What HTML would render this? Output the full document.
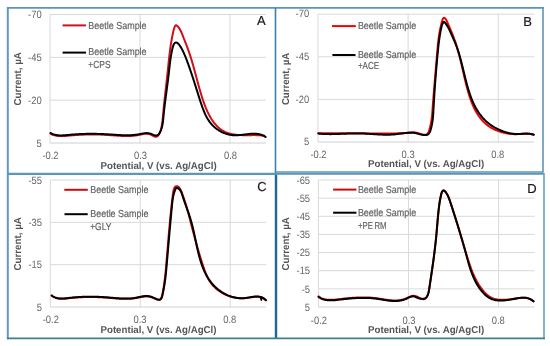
<!DOCTYPE html><html><head><meta charset="utf-8"><style>html,body{margin:0;padding:0;background:#fff;}svg{display:block;filter:blur(0.35px);}text{font-family:"Liberation Sans",sans-serif;text-rendering:geometricPrecision;}</style></head><body>
<svg width="550" height="346" viewBox="0 0 550 346">
<rect x="0" y="0" width="550" height="346" fill="#ffffff"/>
<line x1="50.00" y1="14.50" x2="266.00" y2="14.50" stroke="#d9d9d9" stroke-width="1"/>
<line x1="50.00" y1="57.33" x2="266.00" y2="57.33" stroke="#d9d9d9" stroke-width="1"/>
<line x1="50.00" y1="100.17" x2="266.00" y2="100.17" stroke="#d9d9d9" stroke-width="1"/>
<line x1="50.00" y1="14.50" x2="50.00" y2="143.00" stroke="#d9d9d9" stroke-width="1"/>
<line x1="140.00" y1="14.50" x2="140.00" y2="143.00" stroke="#d9d9d9" stroke-width="1"/>
<line x1="230.00" y1="14.50" x2="230.00" y2="143.00" stroke="#d9d9d9" stroke-width="1"/>
<line x1="50.00" y1="143.00" x2="266.00" y2="143.00" stroke="#d0d0d0" stroke-width="1"/>
<text class="tk" x="41.70" y="18.20" font-size="10.60" fill="#666666" text-anchor="end" textLength="13.58" lengthAdjust="spacingAndGlyphs">-70</text>
<text class="tk" x="41.70" y="61.03" font-size="10.60" fill="#666666" text-anchor="end" textLength="13.58" lengthAdjust="spacingAndGlyphs">-45</text>
<text class="tk" x="41.70" y="103.87" font-size="10.60" fill="#666666" text-anchor="end" textLength="13.58" lengthAdjust="spacingAndGlyphs">-20</text>
<text class="tk" x="41.70" y="146.70" font-size="10.60" fill="#666666" text-anchor="end" textLength="5.23" lengthAdjust="spacingAndGlyphs">5</text>
<text class="tk" x="50.50" y="159.10" font-size="10.60" fill="#666666" text-anchor="middle" textLength="16.20" lengthAdjust="spacingAndGlyphs">-0.2</text>
<text class="tk" x="140.50" y="159.10" font-size="10.60" fill="#666666" text-anchor="middle" textLength="13.07" lengthAdjust="spacingAndGlyphs">0.3</text>
<text class="tk" x="230.50" y="159.10" font-size="10.60" fill="#666666" text-anchor="middle" textLength="13.07" lengthAdjust="spacingAndGlyphs">0.8</text>
<line x1="318.00" y1="14.20" x2="534.30" y2="14.20" stroke="#d9d9d9" stroke-width="1"/>
<line x1="318.00" y1="56.80" x2="534.30" y2="56.80" stroke="#d9d9d9" stroke-width="1"/>
<line x1="318.00" y1="99.40" x2="534.30" y2="99.40" stroke="#d9d9d9" stroke-width="1"/>
<line x1="318.00" y1="14.20" x2="318.00" y2="142.00" stroke="#d9d9d9" stroke-width="1"/>
<line x1="408.12" y1="14.20" x2="408.12" y2="142.00" stroke="#d9d9d9" stroke-width="1"/>
<line x1="498.25" y1="14.20" x2="498.25" y2="142.00" stroke="#d9d9d9" stroke-width="1"/>
<line x1="318.00" y1="142.00" x2="534.30" y2="142.00" stroke="#d0d0d0" stroke-width="1"/>
<text class="tk" x="309.20" y="17.30" font-size="10.60" fill="#666666" text-anchor="end" textLength="13.58" lengthAdjust="spacingAndGlyphs">-70</text>
<text class="tk" x="309.20" y="59.90" font-size="10.60" fill="#666666" text-anchor="end" textLength="13.58" lengthAdjust="spacingAndGlyphs">-45</text>
<text class="tk" x="309.20" y="102.50" font-size="10.60" fill="#666666" text-anchor="end" textLength="13.58" lengthAdjust="spacingAndGlyphs">-20</text>
<text class="tk" x="309.20" y="145.10" font-size="10.60" fill="#666666" text-anchor="end" textLength="5.23" lengthAdjust="spacingAndGlyphs">5</text>
<text class="tk" x="318.50" y="158.10" font-size="10.60" fill="#666666" text-anchor="middle" textLength="16.20" lengthAdjust="spacingAndGlyphs">-0.2</text>
<text class="tk" x="408.12" y="158.10" font-size="10.60" fill="#666666" text-anchor="middle" textLength="13.07" lengthAdjust="spacingAndGlyphs">0.3</text>
<text class="tk" x="497.75" y="158.10" font-size="10.60" fill="#666666" text-anchor="middle" textLength="13.07" lengthAdjust="spacingAndGlyphs">0.8</text>
<line x1="50.30" y1="180.00" x2="266.20" y2="180.00" stroke="#d9d9d9" stroke-width="1"/>
<line x1="50.30" y1="222.33" x2="266.20" y2="222.33" stroke="#d9d9d9" stroke-width="1"/>
<line x1="50.30" y1="264.67" x2="266.20" y2="264.67" stroke="#d9d9d9" stroke-width="1"/>
<line x1="50.30" y1="180.00" x2="50.30" y2="307.00" stroke="#d9d9d9" stroke-width="1"/>
<line x1="140.26" y1="180.00" x2="140.26" y2="307.00" stroke="#d9d9d9" stroke-width="1"/>
<line x1="230.22" y1="180.00" x2="230.22" y2="307.00" stroke="#d9d9d9" stroke-width="1"/>
<line x1="50.30" y1="307.00" x2="266.20" y2="307.00" stroke="#d0d0d0" stroke-width="1"/>
<text class="tk" x="42.00" y="183.70" font-size="10.60" fill="#666666" text-anchor="end" textLength="13.58" lengthAdjust="spacingAndGlyphs">-55</text>
<text class="tk" x="42.00" y="226.03" font-size="10.60" fill="#666666" text-anchor="end" textLength="13.58" lengthAdjust="spacingAndGlyphs">-35</text>
<text class="tk" x="42.00" y="268.37" font-size="10.60" fill="#666666" text-anchor="end" textLength="13.58" lengthAdjust="spacingAndGlyphs">-15</text>
<text class="tk" x="42.00" y="310.70" font-size="10.60" fill="#666666" text-anchor="end" textLength="5.23" lengthAdjust="spacingAndGlyphs">5</text>
<text class="tk" x="50.80" y="323.10" font-size="10.60" fill="#666666" text-anchor="middle" textLength="16.20" lengthAdjust="spacingAndGlyphs">-0.2</text>
<text class="tk" x="139.96" y="323.10" font-size="10.60" fill="#666666" text-anchor="middle" textLength="13.07" lengthAdjust="spacingAndGlyphs">0.3</text>
<text class="tk" x="229.72" y="323.10" font-size="10.60" fill="#666666" text-anchor="middle" textLength="13.07" lengthAdjust="spacingAndGlyphs">0.8</text>
<line x1="318.40" y1="180.00" x2="534.60" y2="180.00" stroke="#d9d9d9" stroke-width="1"/>
<line x1="318.40" y1="198.14" x2="534.60" y2="198.14" stroke="#d9d9d9" stroke-width="1"/>
<line x1="318.40" y1="216.29" x2="534.60" y2="216.29" stroke="#d9d9d9" stroke-width="1"/>
<line x1="318.40" y1="234.43" x2="534.60" y2="234.43" stroke="#d9d9d9" stroke-width="1"/>
<line x1="318.40" y1="252.57" x2="534.60" y2="252.57" stroke="#d9d9d9" stroke-width="1"/>
<line x1="318.40" y1="270.71" x2="534.60" y2="270.71" stroke="#d9d9d9" stroke-width="1"/>
<line x1="318.40" y1="288.86" x2="534.60" y2="288.86" stroke="#d9d9d9" stroke-width="1"/>
<line x1="318.40" y1="180.00" x2="318.40" y2="307.00" stroke="#d9d9d9" stroke-width="1"/>
<line x1="408.48" y1="180.00" x2="408.48" y2="307.00" stroke="#d9d9d9" stroke-width="1"/>
<line x1="498.57" y1="180.00" x2="498.57" y2="307.00" stroke="#d9d9d9" stroke-width="1"/>
<line x1="318.40" y1="307.00" x2="534.60" y2="307.00" stroke="#d0d0d0" stroke-width="1"/>
<text class="tk" x="310.10" y="183.70" font-size="10.60" fill="#666666" text-anchor="end" textLength="13.58" lengthAdjust="spacingAndGlyphs">-65</text>
<text class="tk" x="310.10" y="201.84" font-size="10.60" fill="#666666" text-anchor="end" textLength="13.58" lengthAdjust="spacingAndGlyphs">-55</text>
<text class="tk" x="310.10" y="219.99" font-size="10.60" fill="#666666" text-anchor="end" textLength="13.58" lengthAdjust="spacingAndGlyphs">-45</text>
<text class="tk" x="310.10" y="238.13" font-size="10.60" fill="#666666" text-anchor="end" textLength="13.58" lengthAdjust="spacingAndGlyphs">-35</text>
<text class="tk" x="310.10" y="256.27" font-size="10.60" fill="#666666" text-anchor="end" textLength="13.58" lengthAdjust="spacingAndGlyphs">-25</text>
<text class="tk" x="310.10" y="274.41" font-size="10.60" fill="#666666" text-anchor="end" textLength="13.58" lengthAdjust="spacingAndGlyphs">-15</text>
<text class="tk" x="310.10" y="292.56" font-size="10.60" fill="#666666" text-anchor="end" textLength="8.36" lengthAdjust="spacingAndGlyphs">-5</text>
<text class="tk" x="310.10" y="310.70" font-size="10.60" fill="#666666" text-anchor="end" textLength="5.23" lengthAdjust="spacingAndGlyphs">5</text>
<text class="tk" x="318.90" y="323.60" font-size="10.60" fill="#666666" text-anchor="middle" textLength="16.20" lengthAdjust="spacingAndGlyphs">-0.2</text>
<text class="tk" x="408.98" y="323.60" font-size="10.60" fill="#666666" text-anchor="middle" textLength="13.07" lengthAdjust="spacingAndGlyphs">0.3</text>
<text class="tk" x="498.27" y="323.60" font-size="10.60" fill="#666666" text-anchor="middle" textLength="13.07" lengthAdjust="spacingAndGlyphs">0.8</text>
<text x="256.90" y="25.40" font-size="13.00" fill="#1a1a1a" stroke="#1a1a1a" stroke-width="0.2">A</text>
<text x="523.30" y="26.00" font-size="13.00" fill="#1a1a1a" stroke="#1a1a1a" stroke-width="0.2">B</text>
<text x="257.30" y="190.60" font-size="13.00" fill="#1a1a1a" stroke="#1a1a1a" stroke-width="0.2">C</text>
<text x="527.20" y="193.00" font-size="13.00" fill="#1a1a1a" stroke="#1a1a1a" stroke-width="0.2">D</text>
<text x="88.30" y="28.80" font-size="10.10" fill="#646464" stroke="#646464" stroke-width="0.2" textLength="58.30" lengthAdjust="spacingAndGlyphs">Beetle Sample</text>
<text x="88.30" y="55.10" font-size="10.10" fill="#646464" stroke="#646464" stroke-width="0.2" textLength="58.30" lengthAdjust="spacingAndGlyphs">Beetle Sample</text>
<text x="88.30" y="68.10" font-size="10.10" fill="#646464" stroke="#646464" stroke-width="0.2" textLength="22.20" lengthAdjust="spacingAndGlyphs">+CPS</text>
<text x="357.90" y="29.20" font-size="10.10" fill="#646464" stroke="#646464" stroke-width="0.2" textLength="58.30" lengthAdjust="spacingAndGlyphs">Beetle Sample</text>
<text x="357.90" y="57.70" font-size="10.10" fill="#646464" stroke="#646464" stroke-width="0.2" textLength="58.30" lengthAdjust="spacingAndGlyphs">Beetle Sample</text>
<text x="357.90" y="69.40" font-size="10.10" fill="#646464" stroke="#646464" stroke-width="0.2" textLength="21.20" lengthAdjust="spacingAndGlyphs">+ACE</text>
<text x="90.20" y="192.70" font-size="10.10" fill="#646464" stroke="#646464" stroke-width="0.2" textLength="58.30" lengthAdjust="spacingAndGlyphs">Beetle Sample</text>
<text x="90.20" y="216.90" font-size="10.10" fill="#646464" stroke="#646464" stroke-width="0.2" textLength="58.30" lengthAdjust="spacingAndGlyphs">Beetle Sample</text>
<text x="90.20" y="229.60" font-size="10.10" fill="#646464" stroke="#646464" stroke-width="0.2" textLength="21.20" lengthAdjust="spacingAndGlyphs">+GLY</text>
<text x="357.90" y="192.70" font-size="10.10" fill="#646464" stroke="#646464" stroke-width="0.2" textLength="58.30" lengthAdjust="spacingAndGlyphs">Beetle Sample</text>
<text x="357.90" y="215.90" font-size="10.10" fill="#646464" stroke="#646464" stroke-width="0.2" textLength="58.30" lengthAdjust="spacingAndGlyphs">Beetle Sample</text>
<text x="357.90" y="228.50" font-size="10.10" fill="#646464" stroke="#646464" stroke-width="0.2" textLength="28.60" lengthAdjust="spacingAndGlyphs">+PE RM</text>
<text x="100.50" y="168.50" font-size="10.00" fill="#555555" textLength="116.20" lengthAdjust="spacingAndGlyphs" font-weight="bold">Potential, V (vs. Ag/AgCl)</text>
<text x="368.00" y="167.20" font-size="10.00" fill="#555555" textLength="116.20" lengthAdjust="spacingAndGlyphs" font-weight="bold">Potential, V (vs. Ag/AgCl)</text>
<text x="100.50" y="333.00" font-size="10.00" fill="#555555" textLength="116.00" lengthAdjust="spacingAndGlyphs" font-weight="bold">Potential, V (vs. Ag/AgCl)</text>
<text x="368.00" y="333.30" font-size="10.00" fill="#555555" textLength="116.20" lengthAdjust="spacingAndGlyphs" font-weight="bold">Potential, V (vs. Ag/AgCl)</text>
<text x="21.20" y="105.50" font-size="10.00" fill="#555555" textLength="53.40" lengthAdjust="spacingAndGlyphs" font-weight="bold" transform="rotate(-90 21.20 105.50)">Current, µA</text>
<text x="289.20" y="105.10" font-size="10.00" fill="#555555" textLength="52.40" lengthAdjust="spacingAndGlyphs" font-weight="bold" transform="rotate(-90 289.20 105.10)">Current, µA</text>
<text x="21.20" y="270.50" font-size="10.00" fill="#555555" textLength="53.40" lengthAdjust="spacingAndGlyphs" font-weight="bold" transform="rotate(-90 21.20 270.50)">Current, µA</text>
<text x="289.20" y="270.50" font-size="10.00" fill="#555555" textLength="53.40" lengthAdjust="spacingAndGlyphs" font-weight="bold" transform="rotate(-90 289.20 270.50)">Current, µA</text>
<line x1="62.60" y1="25.40" x2="85.90" y2="25.40" stroke="#d20f18" stroke-width="2"/>
<line x1="62.60" y1="52.60" x2="86.00" y2="52.60" stroke="#000000" stroke-width="2"/>
<line x1="332.00" y1="26.10" x2="355.80" y2="26.10" stroke="#f20000" stroke-width="2"/>
<line x1="332.40" y1="55.00" x2="355.50" y2="55.00" stroke="#000000" stroke-width="2"/>
<line x1="64.30" y1="189.80" x2="87.80" y2="189.80" stroke="#cc0c0c" stroke-width="2"/>
<line x1="64.50" y1="214.20" x2="87.70" y2="214.20" stroke="#000000" stroke-width="2"/>
<line x1="333.10" y1="189.60" x2="356.40" y2="189.60" stroke="#cc0c0c" stroke-width="2"/>
<line x1="333.10" y1="212.70" x2="356.40" y2="212.70" stroke="#000000" stroke-width="2"/>
<path d="M50.52,133.65 L51.09,133.96 L51.67,134.25 L52.25,134.51 L52.83,134.75 L53.42,134.96 L54.02,135.16 L54.62,135.33 L55.22,135.48 L55.83,135.62 L56.44,135.73 L57.06,135.83 L57.68,135.91 L58.30,135.98 L58.93,136.03 L59.55,136.07 L60.19,136.09 L60.82,136.11 L61.46,136.11 L62.09,136.10 L62.73,136.08 L63.38,136.06 L64.02,136.02 L64.66,135.98 L65.31,135.94 L65.96,135.89 L66.60,135.83 L67.25,135.78 L67.90,135.72 L68.55,135.66 L69.20,135.60 L69.84,135.54 L70.49,135.48 L71.13,135.42 L71.78,135.36 L72.43,135.31 L73.07,135.26 L73.71,135.21 L74.36,135.16 L75.00,135.11 L75.64,135.07 L76.28,135.02 L76.92,134.98 L77.56,134.94 L78.20,134.90 L78.84,134.87 L79.48,134.83 L80.12,134.80 L80.76,134.77 L81.40,134.74 L82.04,134.71 L82.68,134.68 L83.31,134.66 L83.95,134.63 L84.59,134.61 L85.22,134.59 L85.86,134.57 L86.50,134.56 L87.13,134.54 L87.77,134.53 L88.40,134.52 L89.04,134.51 L89.67,134.50 L90.31,134.49 L90.95,134.49 L91.58,134.48 L92.22,134.48 L92.85,134.48 L93.49,134.48 L94.12,134.49 L94.76,134.49 L95.39,134.50 L96.03,134.51 L96.66,134.52 L97.30,134.53 L97.93,134.55 L98.57,134.56 L99.21,134.58 L99.84,134.60 L100.48,134.62 L101.11,134.64 L101.75,134.66 L102.39,134.69 L103.03,134.72 L103.66,134.75 L104.30,134.78 L104.94,134.81 L105.58,134.84 L106.22,134.88 L106.86,134.92 L107.50,134.96 L108.14,135.00 L108.78,135.04 L109.42,135.08 L110.06,135.13 L110.70,135.18 L111.34,135.22 L111.99,135.27 L112.63,135.32 L113.27,135.37 L113.91,135.41 L114.56,135.46 L115.20,135.51 L115.84,135.56 L116.48,135.60 L117.13,135.65 L117.77,135.69 L118.41,135.73 L119.05,135.77 L119.70,135.81 L120.34,135.85 L120.98,135.88 L121.62,135.91 L122.26,135.94 L122.90,135.96 L123.54,135.99 L124.18,136.00 L124.82,136.02 L125.46,136.03 L126.10,136.04 L126.73,136.04 L127.37,136.04 L128.01,136.03 L128.64,136.02 L129.28,136.00 L129.91,135.98 L130.54,135.95 L131.17,135.92 L131.80,135.88 L132.43,135.84 L133.06,135.78 L133.69,135.73 L134.32,135.66 L134.94,135.59 L135.57,135.51 L136.19,135.42 L136.81,135.33 L137.43,135.23 L138.05,135.12 L138.67,135.00 L139.29,134.87 L139.90,134.73 L140.52,134.59 L141.13,134.45 L141.75,134.31 L142.36,134.17 L142.98,134.04 L143.59,133.93 L144.21,133.83 L144.83,133.75 L145.46,133.70 L146.09,133.68 L146.72,133.68 L147.35,133.73 L148.00,133.81 L148.64,133.94 L149.30,134.11 L149.96,134.34 L150.63,134.61 L151.30,134.93 L151.97,135.27 L152.63,135.61 L153.28,135.94 L153.92,136.23 L154.54,136.47 L155.13,136.64 L155.69,136.72 L156.22,136.70 L156.71,136.57 L157.18,136.35 L157.61,136.04 L158.01,135.66 L158.38,135.21 L158.73,134.70 L159.06,134.15 L159.36,133.56 L159.64,132.94 L159.91,132.30 L160.15,131.66 L160.38,131.01 L160.60,130.37 L160.80,129.73 L160.98,129.09 L161.16,128.45 L161.32,127.81 L161.47,127.18 L161.61,126.54 L161.74,125.91 L161.86,125.28 L161.97,124.65 L162.07,124.02 L162.17,123.39 L162.26,122.76 L162.34,122.13 L162.41,121.51 L162.49,120.88 L162.55,120.26 L162.61,119.63 L162.67,119.00 L162.73,118.38 L162.79,117.75 L162.84,117.13 L162.90,116.50 L162.95,115.87 L163.01,115.24 L163.06,114.62 L163.12,113.99 L163.18,113.36 L163.24,112.73 L163.30,112.10 L163.36,111.47 L163.42,110.83 L163.48,110.20 L163.54,109.57 L163.60,108.94 L163.67,108.30 L163.73,107.67 L163.79,107.04 L163.86,106.40 L163.92,105.77 L163.99,105.13 L164.05,104.50 L164.12,103.86 L164.19,103.23 L164.26,102.59 L164.32,101.95 L164.39,101.32 L164.46,100.68 L164.53,100.04 L164.60,99.40 L164.67,98.77 L164.74,98.13 L164.81,97.49 L164.88,96.85 L164.95,96.21 L165.02,95.57 L165.09,94.94 L165.16,94.30 L165.24,93.66 L165.31,93.02 L165.38,92.38 L165.45,91.74 L165.52,91.10 L165.60,90.46 L165.67,89.82 L165.74,89.18 L165.81,88.54 L165.89,87.90 L165.96,87.26 L166.03,86.62 L166.10,85.98 L166.18,85.35 L166.25,84.71 L166.32,84.07 L166.39,83.43 L166.46,82.79 L166.54,82.15 L166.61,81.51 L166.68,80.87 L166.75,80.24 L166.82,79.60 L166.89,78.96 L166.96,78.32 L167.03,77.69 L167.10,77.05 L167.17,76.41 L167.24,75.77 L167.31,75.14 L167.38,74.50 L167.45,73.87 L167.52,73.23 L167.59,72.60 L167.65,71.96 L167.72,71.33 L167.79,70.69 L167.85,70.06 L167.92,69.43 L167.98,68.79 L168.05,68.16 L168.11,67.53 L168.18,66.90 L168.24,66.27 L168.31,65.63 L168.37,65.00 L168.44,64.37 L168.50,63.74 L168.57,63.11 L168.64,62.48 L168.70,61.85 L168.77,61.22 L168.84,60.59 L168.90,59.96 L168.97,59.33 L169.04,58.70 L169.11,58.07 L169.18,57.44 L169.25,56.81 L169.32,56.18 L169.39,55.55 L169.47,54.92 L169.54,54.29 L169.62,53.67 L169.69,53.04 L169.77,52.41 L169.85,51.78 L169.93,51.15 L170.01,50.52 L170.09,49.89 L170.18,49.26 L170.26,48.63 L170.35,48.00 L170.44,47.37 L170.53,46.74 L170.62,46.11 L170.71,45.48 L170.81,44.85 L170.91,44.22 L171.01,43.59 L171.11,42.95 L171.21,42.32 L171.31,41.69 L171.42,41.06 L171.53,40.43 L171.64,39.79 L171.75,39.16 L171.87,38.53 L171.99,37.89 L172.11,37.26 L172.23,36.62 L172.36,35.99 L172.48,35.35 L172.61,34.72 L172.75,34.08 L172.88,33.45 L173.02,32.81 L173.16,32.17 L173.31,31.53 L173.47,30.88 L173.63,30.22 L173.81,29.55 L174.00,28.87 L174.21,28.17 L174.44,27.46 L174.69,26.79 L174.97,26.19 L175.27,25.70 L175.61,25.36 L175.97,25.21 L176.37,25.28 L176.80,25.53 L177.22,25.89 L177.63,26.29 L178.02,26.71 L178.40,27.15 L178.76,27.62 L179.11,28.11 L179.44,28.61 L179.77,29.14 L180.08,29.68 L180.38,30.24 L180.67,30.82 L180.95,31.40 L181.23,32.00 L181.50,32.60 L181.76,33.21 L182.02,33.83 L182.27,34.45 L182.52,35.08 L182.77,35.71 L183.01,36.34 L183.26,36.97 L183.50,37.59 L183.75,38.21 L183.99,38.84 L184.24,39.45 L184.48,40.07 L184.72,40.69 L184.96,41.30 L185.20,41.91 L185.44,42.52 L185.68,43.13 L185.92,43.73 L186.15,44.34 L186.39,44.94 L186.62,45.55 L186.85,46.15 L187.08,46.75 L187.31,47.35 L187.53,47.95 L187.75,48.55 L187.97,49.15 L188.19,49.75 L188.40,50.34 L188.61,50.94 L188.82,51.54 L189.03,52.14 L189.23,52.73 L189.44,53.33 L189.64,53.93 L189.83,54.52 L190.03,55.12 L190.22,55.71 L190.41,56.31 L190.60,56.91 L190.79,57.50 L190.98,58.10 L191.16,58.69 L191.35,59.29 L191.53,59.88 L191.71,60.48 L191.88,61.07 L192.06,61.67 L192.24,62.27 L192.41,62.86 L192.58,63.46 L192.76,64.05 L192.93,64.65 L193.10,65.25 L193.26,65.85 L193.43,66.44 L193.60,67.04 L193.77,67.64 L193.93,68.24 L194.10,68.84 L194.26,69.44 L194.42,70.04 L194.59,70.64 L194.75,71.24 L194.91,71.84 L195.07,72.44 L195.23,73.04 L195.40,73.64 L195.56,74.25 L195.72,74.85 L195.88,75.46 L196.04,76.06 L196.20,76.67 L196.37,77.27 L196.53,77.88 L196.69,78.49 L196.85,79.10 L197.02,79.71 L197.18,80.32 L197.35,80.93 L197.51,81.54 L197.68,82.16 L197.84,82.77 L198.01,83.39 L198.18,84.00 L198.35,84.62 L198.52,85.24 L198.69,85.86 L198.86,86.48 L199.03,87.10 L199.21,87.72 L199.38,88.35 L199.56,88.97 L199.74,89.60 L199.92,90.22 L200.10,90.85 L200.29,91.48 L200.47,92.11 L200.66,92.75 L200.85,93.38 L201.04,94.01 L201.23,94.65 L201.43,95.29 L201.62,95.92 L201.82,96.56 L202.02,97.20 L202.23,97.84 L202.43,98.48 L202.64,99.12 L202.85,99.75 L203.06,100.39 L203.28,101.03 L203.50,101.67 L203.72,102.30 L203.95,102.93 L204.18,103.57 L204.41,104.20 L204.64,104.83 L204.88,105.45 L205.12,106.08 L205.37,106.70 L205.61,107.32 L205.87,107.94 L206.12,108.56 L206.38,109.17 L206.64,109.78 L206.91,110.39 L207.18,110.99 L207.46,111.59 L207.73,112.18 L208.02,112.77 L208.31,113.36 L208.60,113.94 L208.89,114.52 L209.20,115.10 L209.50,115.67 L209.81,116.23 L210.13,116.79 L210.45,117.34 L210.77,117.89 L211.10,118.43 L211.44,118.97 L211.78,119.50 L212.12,120.03 L212.47,120.54 L212.83,121.05 L213.19,121.56 L213.56,122.06 L213.93,122.55 L214.31,123.03 L214.69,123.51 L215.08,123.98 L215.48,124.44 L215.88,124.89 L216.29,125.34 L216.70,125.78 L217.12,126.20 L217.55,126.62 L217.98,127.03 L218.42,127.44 L218.87,127.83 L219.32,128.21 L219.78,128.59 L220.25,128.95 L220.72,129.31 L221.20,129.65 L221.69,129.99 L222.19,130.31 L222.69,130.63 L223.20,130.93 L223.71,131.22 L224.24,131.51 L224.77,131.78 L225.31,132.04 L225.85,132.28 L226.41,132.52 L226.97,132.75 L227.54,132.96 L228.12,133.16 L228.71,133.35 L229.30,133.52 L229.90,133.69 L230.51,133.84 L231.12,133.98 L231.74,134.12 L232.37,134.24 L233.00,134.35 L233.64,134.46 L234.28,134.55 L234.93,134.64 L235.58,134.71 L236.24,134.79 L236.90,134.85 L237.56,134.91 L238.23,134.95 L238.90,135.00 L239.57,135.04 L240.24,135.07 L240.92,135.09 L241.60,135.12 L242.27,135.13 L242.95,135.15 L243.63,135.16 L244.31,135.16 L244.99,135.17 L245.67,135.17 L246.35,135.17 L247.03,135.17 L247.70,135.16 L248.38,135.16 L249.05,135.15 L249.72,135.14 L250.39,135.14 L251.05,135.13 L251.71,135.13 L252.37,135.12 L253.02,135.12 L253.67,135.12 L254.32,135.12 L254.96,135.12 L255.59,135.13 L256.22,135.14 L256.84,135.16 L257.46,135.18 L258.07,135.20 L258.67,135.23 L259.27,135.26 L259.86,135.30 L260.44,135.34 L261.01,135.39 L261.57,135.45 L262.13,135.52 L262.68,135.59 L263.21,135.67 L263.74,135.76 L264.26,135.85" fill="none" stroke="#d20f18" stroke-width="2.00" stroke-linejoin="round" stroke-linecap="round"/>
<path d="M50.52,132.94 L51.05,133.23 L51.58,133.50 L52.11,133.75 L52.65,133.98 L53.20,134.19 L53.75,134.38 L54.30,134.55 L54.85,134.70 L55.41,134.84 L55.97,134.96 L56.54,135.06 L57.11,135.15 L57.68,135.22 L58.25,135.28 L58.83,135.33 L59.41,135.37 L59.99,135.39 L60.57,135.41 L61.16,135.41 L61.75,135.41 L62.33,135.39 L62.92,135.37 L63.52,135.34 L64.11,135.31 L64.70,135.27 L65.30,135.22 L65.89,135.18 L66.49,135.12 L67.09,135.07 L67.68,135.01 L68.28,134.96 L68.88,134.90 L69.48,134.84 L70.07,134.78 L70.67,134.73 L71.26,134.68 L71.86,134.62 L72.45,134.57 L73.05,134.53 L73.64,134.48 L74.24,134.44 L74.83,134.39 L75.42,134.35 L76.01,134.31 L76.61,134.27 L77.20,134.24 L77.79,134.20 L78.38,134.17 L78.97,134.14 L79.56,134.11 L80.15,134.08 L80.74,134.05 L81.33,134.02 L81.92,134.00 L82.51,133.98 L83.10,133.96 L83.69,133.94 L84.28,133.92 L84.86,133.90 L85.45,133.89 L86.04,133.87 L86.63,133.86 L87.22,133.85 L87.80,133.84 L88.39,133.83 L88.98,133.83 L89.56,133.82 L90.15,133.82 L90.74,133.82 L91.33,133.81 L91.91,133.82 L92.50,133.82 L93.09,133.82 L93.67,133.83 L94.26,133.83 L94.85,133.84 L95.43,133.85 L96.02,133.86 L96.61,133.87 L97.19,133.88 L97.78,133.89 L98.37,133.91 L98.95,133.93 L99.54,133.94 L100.13,133.96 L100.72,133.98 L101.30,134.00 L101.89,134.03 L102.48,134.05 L103.07,134.08 L103.66,134.10 L104.24,134.13 L104.83,134.16 L105.42,134.19 L106.01,134.22 L106.60,134.25 L107.19,134.28 L107.78,134.32 L108.37,134.35 L108.96,134.39 L109.55,134.43 L110.14,134.47 L110.73,134.51 L111.32,134.54 L111.91,134.58 L112.50,134.62 L113.09,134.66 L113.69,134.70 L114.28,134.74 L114.87,134.78 L115.46,134.82 L116.05,134.86 L116.64,134.90 L117.23,134.93 L117.83,134.97 L118.42,135.00 L119.01,135.03 L119.60,135.06 L120.19,135.09 L120.78,135.12 L121.37,135.14 L121.96,135.17 L122.55,135.19 L123.14,135.21 L123.73,135.22 L124.32,135.24 L124.91,135.25 L125.50,135.26 L126.09,135.26 L126.67,135.26 L127.26,135.26 L127.85,135.25 L128.43,135.24 L129.02,135.23 L129.60,135.21 L130.19,135.19 L130.77,135.17 L131.36,135.14 L131.94,135.10 L132.52,135.07 L133.10,135.02 L133.69,134.97 L134.27,134.92 L134.85,134.86 L135.43,134.80 L136.00,134.73 L136.58,134.65 L137.16,134.57 L137.73,134.48 L138.31,134.39 L138.88,134.29 L139.46,134.18 L140.03,134.07 L140.60,133.96 L141.17,133.84 L141.74,133.72 L142.32,133.61 L142.89,133.50 L143.46,133.40 L144.03,133.31 L144.61,133.23 L145.18,133.17 L145.76,133.13 L146.34,133.11 L146.92,133.11 L147.51,133.13 L148.09,133.18 L148.68,133.27 L149.27,133.38 L149.87,133.53 L150.47,133.72 L151.07,133.94 L151.67,134.18 L152.27,134.42 L152.87,134.66 L153.45,134.89 L154.03,135.10 L154.60,135.27 L155.16,135.39 L155.70,135.46 L156.22,135.46 L156.72,135.39 L157.20,135.26 L157.66,135.06 L158.09,134.79 L158.49,134.46 L158.87,134.06 L159.22,133.61 L159.54,133.12 L159.85,132.60 L160.13,132.05 L160.39,131.49 L160.64,130.92 L160.87,130.35 L161.09,129.78 L161.29,129.21 L161.48,128.64 L161.66,128.07 L161.82,127.50 L161.98,126.93 L162.12,126.35 L162.25,125.78 L162.37,125.21 L162.49,124.64 L162.59,124.06 L162.69,123.49 L162.78,122.91 L162.86,122.34 L162.94,121.76 L163.01,121.18 L163.08,120.61 L163.14,120.03 L163.20,119.45 L163.26,118.87 L163.32,118.29 L163.37,117.71 L163.43,117.12 L163.48,116.54 L163.54,115.95 L163.60,115.37 L163.65,114.78 L163.71,114.19 L163.77,113.61 L163.83,113.02 L163.90,112.43 L163.96,111.83 L164.02,111.24 L164.09,110.65 L164.15,110.06 L164.22,109.46 L164.29,108.87 L164.36,108.27 L164.42,107.68 L164.49,107.08 L164.56,106.49 L164.64,105.89 L164.71,105.29 L164.78,104.70 L164.85,104.10 L164.93,103.50 L165.00,102.90 L165.08,102.30 L165.15,101.71 L165.23,101.11 L165.30,100.51 L165.38,99.91 L165.46,99.31 L165.53,98.71 L165.61,98.12 L165.69,97.52 L165.77,96.92 L165.85,96.32 L165.92,95.73 L166.00,95.13 L166.08,94.53 L166.16,93.94 L166.24,93.34 L166.32,92.74 L166.40,92.15 L166.48,91.56 L166.56,90.96 L166.63,90.37 L166.71,89.78 L166.79,89.18 L166.87,88.59 L166.95,88.00 L167.03,87.41 L167.11,86.82 L167.18,86.24 L167.26,85.65 L167.34,85.06 L167.41,84.48 L167.49,83.90 L167.57,83.31 L167.64,82.73 L167.72,82.15 L167.79,81.57 L167.87,80.99 L167.94,80.42 L168.01,79.84 L168.09,79.27 L168.16,78.69 L168.23,78.12 L168.30,77.55 L168.37,76.99 L168.44,76.42 L168.51,75.85 L168.57,75.29 L168.64,74.73 L168.71,74.17 L168.77,73.61 L168.84,73.05 L168.90,72.50 L168.96,71.94 L169.02,71.39 L169.08,70.84 L169.14,70.30 L169.20,69.75 L169.26,69.20 L169.32,68.66 L169.38,68.11 L169.44,67.56 L169.50,67.02 L169.56,66.47 L169.62,65.92 L169.68,65.37 L169.74,64.82 L169.81,64.27 L169.87,63.72 L169.94,63.16 L170.01,62.60 L170.08,62.04 L170.15,61.47 L170.23,60.90 L170.31,60.33 L170.39,59.76 L170.47,59.18 L170.56,58.59 L170.64,58.00 L170.74,57.41 L170.83,56.81 L170.93,56.20 L171.03,55.59 L171.14,54.97 L171.25,54.35 L171.37,53.72 L171.49,53.08 L171.61,52.44 L171.74,51.79 L171.87,51.13 L172.01,50.46 L172.16,49.78 L172.31,49.10 L172.46,48.42 L172.63,47.75 L172.81,47.08 L172.99,46.44 L173.20,45.82 L173.41,45.24 L173.65,44.70 L173.90,44.20 L174.17,43.76 L174.46,43.37 L174.77,43.05 L175.11,42.81 L175.47,42.64 L175.86,42.55 L176.26,42.55 L176.67,42.64 L177.08,42.81 L177.49,43.06 L177.90,43.39 L178.31,43.78 L178.71,44.22 L179.11,44.71 L179.50,45.23 L179.88,45.77 L180.25,46.33 L180.61,46.90 L180.96,47.46 L181.29,48.02 L181.61,48.58 L181.92,49.14 L182.22,49.69 L182.51,50.24 L182.78,50.78 L183.05,51.33 L183.31,51.87 L183.57,52.41 L183.81,52.94 L184.05,53.48 L184.28,54.02 L184.51,54.55 L184.74,55.09 L184.96,55.62 L185.17,56.16 L185.39,56.69 L185.60,57.22 L185.81,57.76 L186.02,58.30 L186.22,58.83 L186.43,59.37 L186.64,59.91 L186.84,60.45 L187.04,60.99 L187.25,61.53 L187.45,62.07 L187.65,62.61 L187.85,63.15 L188.05,63.70 L188.24,64.24 L188.44,64.78 L188.64,65.33 L188.83,65.87 L189.03,66.42 L189.22,66.97 L189.41,67.51 L189.60,68.06 L189.79,68.61 L189.98,69.16 L190.17,69.71 L190.36,70.26 L190.55,70.81 L190.74,71.36 L190.93,71.91 L191.11,72.47 L191.30,73.02 L191.48,73.57 L191.67,74.13 L191.85,74.68 L192.03,75.24 L192.22,75.79 L192.40,76.35 L192.58,76.90 L192.76,77.46 L192.95,78.02 L193.13,78.58 L193.31,79.14 L193.49,79.69 L193.67,80.25 L193.85,80.81 L194.03,81.37 L194.21,81.93 L194.39,82.50 L194.57,83.06 L194.75,83.62 L194.92,84.18 L195.10,84.74 L195.28,85.31 L195.46,85.87 L195.64,86.43 L195.82,87.00 L196.00,87.56 L196.17,88.13 L196.35,88.69 L196.53,89.26 L196.71,89.83 L196.89,90.39 L197.07,90.96 L197.25,91.52 L197.43,92.09 L197.60,92.66 L197.78,93.23 L197.96,93.80 L198.14,94.36 L198.32,94.93 L198.50,95.50 L198.69,96.07 L198.87,96.64 L199.05,97.21 L199.23,97.78 L199.41,98.35 L199.60,98.92 L199.78,99.49 L199.96,100.06 L200.15,100.63 L200.33,101.20 L200.52,101.77 L200.70,102.34 L200.89,102.92 L201.08,103.49 L201.27,104.05 L201.46,104.62 L201.66,105.19 L201.85,105.76 L202.05,106.32 L202.25,106.89 L202.45,107.45 L202.66,108.01 L202.87,108.57 L203.08,109.13 L203.29,109.69 L203.51,110.24 L203.73,110.79 L203.95,111.34 L204.18,111.89 L204.41,112.43 L204.65,112.97 L204.89,113.51 L205.14,114.05 L205.39,114.58 L205.64,115.11 L205.90,115.63 L206.17,116.15 L206.44,116.67 L206.71,117.18 L206.99,117.69 L207.28,118.19 L207.57,118.69 L207.87,119.19 L208.18,119.68 L208.49,120.17 L208.81,120.65 L209.14,121.12 L209.47,121.59 L209.81,122.06 L210.16,122.52 L210.51,122.97 L210.88,123.42 L211.25,123.86 L211.63,124.30 L212.01,124.73 L212.41,125.15 L212.81,125.57 L213.22,125.98 L213.64,126.38 L214.07,126.78 L214.51,127.16 L214.95,127.55 L215.40,127.92 L215.86,128.29 L216.33,128.65 L216.80,129.00 L217.28,129.34 L217.76,129.68 L218.26,130.00 L218.75,130.32 L219.26,130.63 L219.77,130.93 L220.28,131.22 L220.80,131.51 L221.33,131.78 L221.86,132.05 L222.39,132.30 L222.93,132.55 L223.47,132.78 L224.02,133.01 L224.57,133.23 L225.13,133.43 L225.69,133.63 L226.25,133.82 L226.82,133.99 L227.39,134.16 L227.96,134.31 L228.54,134.45 L229.11,134.59 L229.69,134.71 L230.28,134.82 L230.86,134.91 L231.45,135.00 L232.03,135.07 L232.62,135.14 L233.21,135.19 L233.80,135.22 L234.40,135.25 L234.99,135.27 L235.58,135.27 L236.18,135.27 L236.77,135.25 L237.37,135.23 L237.96,135.20 L238.56,135.16 L239.16,135.12 L239.75,135.07 L240.35,135.01 L240.95,134.95 L241.54,134.88 L242.14,134.82 L242.74,134.75 L243.33,134.67 L243.93,134.60 L244.53,134.52 L245.12,134.45 L245.72,134.37 L246.31,134.30 L246.90,134.22 L247.50,134.15 L248.09,134.09 L248.68,134.02 L249.27,133.96 L249.86,133.91 L250.44,133.86 L251.03,133.81 L251.61,133.78 L252.20,133.75 L252.78,133.73 L253.36,133.71 L253.94,133.71 L254.52,133.72 L255.09,133.73 L255.66,133.76 L256.24,133.80 L256.81,133.86 L257.37,133.92 L257.94,134.00 L258.50,134.09 L259.06,134.20 L259.62,134.33 L260.17,134.47 L260.73,134.63 L261.28,134.80 L261.82,134.99 L262.37,135.21 L262.91,135.44 L263.45,135.69 L263.99,135.96 L264.52,136.26 L265.05,136.57 L265.57,136.91" fill="none" stroke="#000000" stroke-width="2.00" stroke-linejoin="round" stroke-linecap="round"/>
<path d="M318.33,133.20 L318.99,133.20 L319.65,133.19 L320.31,133.18 L320.97,133.17 L321.63,133.17 L322.29,133.16 L322.95,133.16 L323.61,133.15 L324.26,133.15 L324.92,133.14 L325.58,133.14 L326.24,133.14 L326.90,133.14 L327.56,133.13 L328.21,133.13 L328.87,133.13 L329.53,133.13 L330.19,133.13 L330.85,133.13 L331.50,133.13 L332.16,133.13 L332.82,133.13 L333.48,133.13 L334.14,133.13 L334.79,133.13 L335.45,133.13 L336.11,133.13 L336.77,133.14 L337.42,133.14 L338.08,133.14 L338.74,133.14 L339.39,133.15 L340.05,133.15 L340.71,133.16 L341.37,133.16 L342.02,133.16 L342.68,133.17 L343.34,133.17 L344.00,133.18 L344.65,133.18 L345.31,133.19 L345.97,133.19 L346.63,133.20 L347.28,133.20 L347.94,133.21 L348.60,133.21 L349.25,133.22 L349.91,133.22 L350.57,133.23 L351.23,133.24 L351.88,133.24 L352.54,133.25 L353.20,133.25 L353.86,133.26 L354.51,133.27 L355.17,133.27 L355.83,133.28 L356.49,133.29 L357.14,133.29 L357.80,133.30 L358.46,133.31 L359.12,133.31 L359.78,133.32 L360.43,133.32 L361.09,133.33 L361.75,133.34 L362.41,133.34 L363.07,133.35 L363.72,133.36 L364.38,133.36 L365.04,133.37 L365.70,133.37 L366.36,133.38 L367.02,133.38 L367.68,133.39 L368.33,133.40 L368.99,133.40 L369.65,133.41 L370.31,133.41 L370.97,133.42 L371.63,133.42 L372.29,133.42 L372.95,133.43 L373.61,133.43 L374.27,133.44 L374.93,133.44 L375.59,133.44 L376.25,133.45 L376.91,133.45 L377.57,133.45 L378.23,133.45 L378.89,133.46 L379.55,133.46 L380.21,133.46 L380.87,133.46 L381.53,133.46 L382.20,133.46 L382.86,133.46 L383.52,133.46 L384.18,133.46 L384.84,133.46 L385.50,133.46 L386.17,133.46 L386.83,133.46 L387.49,133.46 L388.15,133.45 L388.82,133.45 L389.48,133.45 L390.14,133.44 L390.81,133.44 L391.47,133.43 L392.13,133.43 L392.80,133.42 L393.46,133.42 L394.13,133.41 L394.79,133.41 L395.46,133.40 L396.12,133.39 L396.78,133.38 L397.45,133.37 L398.11,133.36 L398.78,133.35 L399.44,133.33 L400.10,133.31 L400.76,133.29 L401.42,133.27 L402.07,133.24 L402.73,133.21 L403.38,133.18 L404.03,133.14 L404.68,133.10 L405.32,133.05 L405.97,133.00 L406.60,132.95 L407.24,132.88 L407.87,132.81 L408.50,132.74 L409.13,132.66 L409.75,132.59 L410.37,132.51 L411.00,132.45 L411.63,132.40 L412.26,132.36 L412.90,132.34 L413.54,132.34 L414.19,132.37 L414.86,132.43 L415.53,132.53 L416.21,132.66 L416.91,132.82 L417.61,133.01 L418.32,133.23 L419.03,133.45 L419.74,133.68 L420.44,133.91 L421.14,134.12 L421.82,134.32 L422.49,134.50 L423.15,134.64 L423.78,134.74 L424.39,134.80 L424.97,134.80 L425.53,134.74 L426.05,134.61 L426.53,134.40 L426.98,134.11 L427.39,133.73 L427.76,133.28 L428.09,132.76 L428.40,132.19 L428.68,131.57 L428.94,130.92 L429.17,130.24 L429.40,129.55 L429.60,128.85 L429.80,128.15 L429.99,127.46 L430.16,126.78 L430.33,126.10 L430.49,125.42 L430.64,124.75 L430.78,124.08 L430.91,123.42 L431.04,122.76 L431.16,122.10 L431.27,121.44 L431.38,120.79 L431.48,120.14 L431.57,119.49 L431.66,118.85 L431.74,118.20 L431.82,117.56 L431.89,116.92 L431.96,116.28 L432.03,115.65 L432.09,115.01 L432.15,114.37 L432.20,113.74 L432.26,113.10 L432.31,112.47 L432.36,111.84 L432.40,111.20 L432.45,110.56 L432.50,109.93 L432.54,109.29 L432.59,108.65 L432.63,108.01 L432.68,107.37 L432.72,106.73 L432.77,106.09 L432.82,105.44 L432.86,104.80 L432.91,104.15 L432.96,103.50 L433.01,102.85 L433.06,102.20 L433.11,101.55 L433.16,100.89 L433.21,100.24 L433.26,99.58 L433.31,98.93 L433.36,98.27 L433.41,97.61 L433.46,96.95 L433.51,96.29 L433.57,95.63 L433.62,94.97 L433.67,94.31 L433.73,93.64 L433.78,92.98 L433.83,92.32 L433.89,91.65 L433.94,90.99 L434.00,90.32 L434.05,89.65 L434.11,88.99 L434.16,88.32 L434.22,87.65 L434.27,86.98 L434.33,86.32 L434.38,85.65 L434.44,84.98 L434.50,84.31 L434.55,83.64 L434.61,82.97 L434.67,82.30 L434.72,81.63 L434.78,80.96 L434.84,80.29 L434.89,79.62 L434.95,78.96 L435.01,78.29 L435.07,77.62 L435.12,76.95 L435.18,76.28 L435.24,75.61 L435.29,74.94 L435.35,74.28 L435.41,73.61 L435.47,72.94 L435.52,72.28 L435.58,71.61 L435.64,70.95 L435.70,70.28 L435.75,69.62 L435.81,68.95 L435.87,68.29 L435.92,67.63 L435.98,66.97 L436.04,66.31 L436.09,65.65 L436.15,64.99 L436.21,64.33 L436.26,63.67 L436.32,63.02 L436.37,62.36 L436.43,61.71 L436.48,61.05 L436.54,60.40 L436.59,59.75 L436.65,59.10 L436.70,58.45 L436.76,57.80 L436.81,57.16 L436.87,56.51 L436.92,55.87 L436.97,55.23 L437.03,54.59 L437.08,53.95 L437.13,53.31 L437.18,52.67 L437.24,52.04 L437.29,51.40 L437.34,50.77 L437.40,50.14 L437.45,49.50 L437.51,48.87 L437.56,48.24 L437.62,47.61 L437.68,46.98 L437.74,46.35 L437.80,45.71 L437.86,45.08 L437.92,44.45 L437.99,43.82 L438.05,43.18 L438.12,42.55 L438.19,41.91 L438.27,41.28 L438.34,40.64 L438.42,40.00 L438.50,39.36 L438.59,38.72 L438.67,38.08 L438.76,37.43 L438.85,36.79 L438.95,36.14 L439.04,35.49 L439.15,34.83 L439.25,34.18 L439.36,33.52 L439.47,32.86 L439.59,32.20 L439.71,31.53 L439.83,30.86 L439.96,30.19 L440.09,29.52 L440.23,28.84 L440.37,28.16 L440.52,27.48 L440.67,26.79 L440.83,26.10 L440.99,25.40 L441.16,24.70 L441.33,24.00 L441.51,23.29 L441.69,22.58 L441.88,21.86 L442.07,21.14 L442.28,20.43 L442.49,19.76 L442.73,19.16 L442.99,18.64 L443.28,18.23 L443.60,17.95 L443.95,17.84 L444.35,17.91 L444.77,18.13 L445.18,18.49 L445.57,18.94 L445.93,19.47 L446.25,20.05 L446.56,20.66 L446.85,21.29 L447.14,21.93 L447.43,22.56 L447.72,23.19 L448.00,23.82 L448.28,24.45 L448.56,25.07 L448.84,25.70 L449.11,26.32 L449.38,26.94 L449.65,27.56 L449.92,28.18 L450.19,28.80 L450.45,29.42 L450.71,30.03 L450.97,30.65 L451.22,31.26 L451.48,31.88 L451.73,32.49 L451.98,33.11 L452.22,33.72 L452.47,34.33 L452.71,34.95 L452.95,35.56 L453.18,36.17 L453.42,36.78 L453.65,37.40 L453.88,38.01 L454.10,38.62 L454.33,39.23 L454.55,39.85 L454.77,40.46 L454.98,41.07 L455.20,41.69 L455.41,42.30 L455.62,42.92 L455.82,43.54 L456.03,44.15 L456.23,44.77 L456.42,45.39 L456.62,46.01 L456.81,46.63 L457.00,47.25 L457.19,47.88 L457.38,48.50 L457.56,49.13 L457.74,49.75 L457.92,50.38 L458.10,51.00 L458.27,51.63 L458.45,52.26 L458.62,52.89 L458.79,53.52 L458.95,54.15 L459.12,54.78 L459.29,55.41 L459.45,56.05 L459.61,56.68 L459.77,57.31 L459.93,57.95 L460.09,58.58 L460.24,59.22 L460.40,59.86 L460.55,60.49 L460.71,61.13 L460.86,61.77 L461.01,62.41 L461.16,63.05 L461.31,63.69 L461.46,64.33 L461.61,64.97 L461.76,65.61 L461.91,66.25 L462.06,66.89 L462.21,67.54 L462.35,68.18 L462.50,68.82 L462.65,69.47 L462.79,70.11 L462.94,70.76 L463.09,71.40 L463.23,72.05 L463.38,72.69 L463.53,73.34 L463.68,73.98 L463.83,74.63 L463.97,75.28 L464.12,75.92 L464.27,76.57 L464.42,77.22 L464.58,77.87 L464.73,78.51 L464.88,79.16 L465.04,79.81 L465.19,80.46 L465.35,81.10 L465.50,81.75 L465.66,82.40 L465.82,83.05 L465.98,83.70 L466.15,84.35 L466.31,85.00 L466.48,85.64 L466.64,86.29 L466.81,86.94 L466.98,87.59 L467.16,88.24 L467.33,88.89 L467.51,89.53 L467.69,90.18 L467.87,90.83 L468.05,91.47 L468.24,92.12 L468.42,92.76 L468.61,93.40 L468.81,94.04 L469.00,94.68 L469.20,95.32 L469.41,95.96 L469.61,96.59 L469.82,97.23 L470.03,97.86 L470.25,98.49 L470.46,99.12 L470.69,99.74 L470.91,100.37 L471.14,100.99 L471.37,101.61 L471.61,102.22 L471.85,102.84 L472.10,103.45 L472.35,104.05 L472.60,104.66 L472.86,105.26 L473.12,105.86 L473.39,106.45 L473.66,107.04 L473.94,107.63 L474.22,108.22 L474.50,108.80 L474.79,109.37 L475.09,109.95 L475.39,110.51 L475.70,111.08 L476.01,111.64 L476.33,112.19 L476.65,112.74 L476.98,113.29 L477.32,113.83 L477.66,114.37 L478.00,114.90 L478.35,115.43 L478.71,115.95 L479.08,116.47 L479.45,116.98 L479.83,117.48 L480.21,117.98 L480.60,118.48 L481.00,118.96 L481.40,119.45 L481.81,119.92 L482.23,120.39 L482.65,120.86 L483.09,121.31 L483.53,121.77 L483.97,122.21 L484.43,122.65 L484.89,123.08 L485.36,123.50 L485.83,123.92 L486.32,124.33 L486.81,124.73 L487.31,125.13 L487.82,125.52 L488.34,125.90 L488.86,126.27 L489.39,126.64 L489.94,127.00 L490.49,127.35 L491.05,127.69 L491.61,128.02 L492.19,128.35 L492.77,128.66 L493.37,128.97 L493.97,129.27 L494.58,129.56 L495.20,129.84 L495.83,130.12 L496.46,130.38 L497.10,130.64 L497.74,130.89 L498.40,131.13 L499.05,131.36 L499.71,131.58 L500.38,131.79 L501.05,132.00 L501.72,132.19 L502.40,132.38 L503.07,132.55 L503.76,132.72 L504.44,132.88 L505.12,133.03 L505.81,133.17 L506.49,133.31 L507.18,133.43 L507.87,133.54 L508.55,133.65 L509.24,133.74 L509.92,133.83 L510.60,133.90 L511.28,133.97 L511.96,134.03 L512.63,134.08 L513.30,134.12 L513.97,134.14 L514.63,134.16 L515.28,134.18 L515.94,134.18 L516.58,134.17 L517.22,134.15 L517.86,134.12 L518.48,134.09 L519.11,134.04 L519.73,134.00 L520.34,133.95 L520.96,133.89 L521.57,133.84 L522.18,133.79 L522.79,133.74 L523.40,133.70 L524.01,133.66 L524.62,133.62 L525.23,133.60 L525.85,133.59 L526.47,133.58 L527.09,133.59 L527.72,133.62 L528.36,133.66 L529.00,133.72 L529.64,133.79 L530.30,133.89 L530.96,134.01 L531.63,134.15 L532.32,134.31 L533.01,134.51 L533.71,134.73" fill="none" stroke="#f20000" stroke-width="2.00" stroke-linejoin="round" stroke-linecap="round"/>
<path d="M318.35,133.54 L318.98,133.61 L319.62,133.67 L320.26,133.73 L320.89,133.78 L321.53,133.83 L322.17,133.88 L322.81,133.92 L323.45,133.95 L324.09,133.99 L324.73,134.02 L325.37,134.04 L326.01,134.06 L326.65,134.08 L327.29,134.10 L327.93,134.11 L328.57,134.12 L329.21,134.12 L329.85,134.13 L330.49,134.13 L331.14,134.13 L331.78,134.12 L332.42,134.11 L333.06,134.11 L333.71,134.09 L334.35,134.08 L334.99,134.07 L335.64,134.05 L336.28,134.03 L336.92,134.01 L337.57,133.99 L338.21,133.97 L338.86,133.95 L339.50,133.92 L340.15,133.90 L340.79,133.87 L341.44,133.85 L342.08,133.82 L342.73,133.80 L343.37,133.77 L344.02,133.74 L344.66,133.71 L345.31,133.69 L345.95,133.66 L346.60,133.64 L347.24,133.61 L347.89,133.59 L348.53,133.56 L349.18,133.54 L349.83,133.52 L350.47,133.50 L351.12,133.48 L351.76,133.46 L352.41,133.45 L353.06,133.43 L353.70,133.42 L354.35,133.41 L354.99,133.40 L355.64,133.39 L356.28,133.39 L356.93,133.39 L357.58,133.39 L358.22,133.40 L358.87,133.40 L359.51,133.41 L360.16,133.42 L360.80,133.44 L361.45,133.46 L362.09,133.48 L362.74,133.51 L363.38,133.53 L364.03,133.56 L364.67,133.59 L365.32,133.63 L365.96,133.66 L366.61,133.70 L367.25,133.74 L367.90,133.78 L368.54,133.82 L369.19,133.86 L369.83,133.90 L370.47,133.94 L371.12,133.99 L371.76,134.03 L372.41,134.07 L373.05,134.12 L373.70,134.16 L374.34,134.20 L374.98,134.24 L375.63,134.29 L376.27,134.33 L376.92,134.37 L377.56,134.40 L378.20,134.44 L378.85,134.48 L379.49,134.51 L380.14,134.54 L380.78,134.57 L381.42,134.60 L382.07,134.62 L382.71,134.64 L383.35,134.66 L384.00,134.68 L384.64,134.69 L385.29,134.70 L385.93,134.71 L386.57,134.71 L387.22,134.71 L387.86,134.70 L388.51,134.69 L389.15,134.68 L389.79,134.66 L390.44,134.64 L391.08,134.61 L391.72,134.58 L392.37,134.54 L393.01,134.49 L393.66,134.44 L394.30,134.39 L394.94,134.33 L395.59,134.26 L396.23,134.19 L396.88,134.11 L397.52,134.03 L398.16,133.95 L398.81,133.86 L399.45,133.78 L400.09,133.69 L400.74,133.60 L401.38,133.51 L402.02,133.42 L402.66,133.34 L403.30,133.25 L403.95,133.17 L404.59,133.10 L405.23,133.02 L405.87,132.96 L406.51,132.90 L407.14,132.85 L407.78,132.80 L408.42,132.76 L409.06,132.74 L409.69,132.72 L410.33,132.71 L410.96,132.72 L411.59,132.73 L412.23,132.76 L412.86,132.80 L413.49,132.86 L414.12,132.93 L414.74,133.01 L415.37,133.12 L416.00,133.24 L416.62,133.37 L417.25,133.52 L417.87,133.68 L418.49,133.85 L419.12,134.02 L419.74,134.19 L420.37,134.35 L420.99,134.50 L421.62,134.65 L422.24,134.77 L422.87,134.88 L423.50,134.96 L424.14,135.02 L424.77,135.05 L425.41,135.04 L426.05,134.99 L426.66,134.89 L427.25,134.72 L427.78,134.48 L428.26,134.15 L428.69,133.76 L429.08,133.30 L429.42,132.79 L429.73,132.24 L430.01,131.64 L430.26,131.02 L430.48,130.37 L430.69,129.71 L430.88,129.04 L431.06,128.37 L431.23,127.71 L431.39,127.05 L431.54,126.39 L431.69,125.73 L431.82,125.07 L431.95,124.42 L432.07,123.77 L432.19,123.12 L432.30,122.48 L432.40,121.83 L432.49,121.19 L432.58,120.55 L432.66,119.91 L432.74,119.27 L432.81,118.63 L432.88,118.00 L432.94,117.36 L433.00,116.73 L433.06,116.10 L433.11,115.46 L433.16,114.83 L433.20,114.20 L433.25,113.57 L433.29,112.94 L433.33,112.31 L433.36,111.68 L433.40,111.05 L433.43,110.42 L433.47,109.79 L433.50,109.15 L433.53,108.52 L433.57,107.89 L433.60,107.26 L433.64,106.62 L433.67,105.99 L433.71,105.35 L433.74,104.72 L433.78,104.08 L433.81,103.45 L433.85,102.81 L433.89,102.17 L433.92,101.53 L433.96,100.89 L434.00,100.25 L434.04,99.61 L434.08,98.97 L434.12,98.33 L434.16,97.69 L434.20,97.05 L434.24,96.41 L434.28,95.76 L434.32,95.12 L434.36,94.48 L434.41,93.83 L434.45,93.19 L434.49,92.54 L434.53,91.90 L434.58,91.25 L434.62,90.61 L434.67,89.96 L434.71,89.32 L434.76,88.67 L434.80,88.02 L434.85,87.38 L434.89,86.73 L434.94,86.08 L434.98,85.44 L435.03,84.79 L435.08,84.14 L435.13,83.49 L435.17,82.85 L435.22,82.20 L435.27,81.55 L435.32,80.90 L435.37,80.25 L435.42,79.61 L435.47,78.96 L435.52,78.31 L435.57,77.66 L435.62,77.01 L435.67,76.37 L435.72,75.72 L435.77,75.07 L435.83,74.42 L435.88,73.78 L435.93,73.13 L435.98,72.48 L436.04,71.83 L436.09,71.19 L436.14,70.54 L436.20,69.89 L436.25,69.25 L436.31,68.60 L436.36,67.96 L436.42,67.31 L436.47,66.67 L436.53,66.02 L436.58,65.38 L436.64,64.73 L436.69,64.09 L436.75,63.45 L436.81,62.80 L436.86,62.16 L436.92,61.52 L436.98,60.88 L437.04,60.23 L437.10,59.59 L437.15,58.95 L437.21,58.31 L437.27,57.67 L437.33,57.03 L437.39,56.40 L437.45,55.76 L437.51,55.12 L437.57,54.48 L437.63,53.85 L437.69,53.21 L437.75,52.58 L437.81,51.94 L437.87,51.31 L437.93,50.67 L438.00,50.04 L438.06,49.41 L438.13,48.77 L438.19,48.14 L438.26,47.51 L438.33,46.87 L438.40,46.24 L438.47,45.61 L438.54,44.98 L438.61,44.34 L438.69,43.71 L438.77,43.08 L438.84,42.44 L438.92,41.81 L439.01,41.17 L439.09,40.54 L439.18,39.90 L439.26,39.27 L439.35,38.63 L439.45,38.00 L439.54,37.36 L439.64,36.72 L439.74,36.08 L439.84,35.44 L439.94,34.80 L440.05,34.16 L440.16,33.52 L440.28,32.88 L440.39,32.23 L440.51,31.59 L440.63,30.94 L440.76,30.30 L440.89,29.65 L441.02,29.00 L441.16,28.35 L441.30,27.70 L441.46,27.05 L441.63,26.39 L441.81,25.74 L442.02,25.09 L442.25,24.44 L442.51,23.79 L442.80,23.15 L443.11,22.58 L443.45,22.13 L443.81,21.89 L444.19,21.92 L444.58,22.20 L444.96,22.62 L445.35,23.08 L445.72,23.57 L446.08,24.06 L446.43,24.57 L446.78,25.10 L447.12,25.64 L447.45,26.19 L447.77,26.75 L448.09,27.31 L448.40,27.89 L448.70,28.48 L449.00,29.07 L449.29,29.67 L449.58,30.27 L449.87,30.87 L450.15,31.48 L450.43,32.09 L450.71,32.70 L450.98,33.31 L451.25,33.92 L451.52,34.52 L451.79,35.13 L452.06,35.73 L452.33,36.32 L452.60,36.92 L452.86,37.51 L453.12,38.10 L453.38,38.69 L453.64,39.28 L453.90,39.86 L454.15,40.45 L454.40,41.03 L454.65,41.62 L454.90,42.21 L455.14,42.79 L455.38,43.38 L455.62,43.97 L455.85,44.56 L456.08,45.15 L456.31,45.74 L456.53,46.34 L456.75,46.93 L456.97,47.53 L457.18,48.13 L457.39,48.73 L457.60,49.33 L457.80,49.94 L458.00,50.54 L458.20,51.15 L458.40,51.76 L458.59,52.37 L458.78,52.98 L458.97,53.59 L459.15,54.21 L459.34,54.82 L459.52,55.44 L459.70,56.05 L459.88,56.67 L460.05,57.29 L460.22,57.91 L460.40,58.53 L460.57,59.15 L460.73,59.78 L460.90,60.40 L461.07,61.02 L461.23,61.65 L461.39,62.28 L461.55,62.90 L461.71,63.53 L461.87,64.16 L462.03,64.79 L462.19,65.42 L462.34,66.05 L462.50,66.68 L462.66,67.31 L462.81,67.94 L462.96,68.57 L463.12,69.20 L463.27,69.83 L463.43,70.47 L463.58,71.10 L463.73,71.73 L463.88,72.37 L464.04,73.00 L464.19,73.63 L464.35,74.27 L464.50,74.90 L464.65,75.53 L464.81,76.17 L464.97,76.80 L465.12,77.44 L465.28,78.07 L465.44,78.70 L465.60,79.34 L465.76,79.97 L465.92,80.60 L466.08,81.23 L466.24,81.86 L466.41,82.50 L466.58,83.13 L466.74,83.76 L466.91,84.39 L467.09,85.01 L467.26,85.64 L467.43,86.27 L467.61,86.89 L467.79,87.52 L467.97,88.14 L468.16,88.77 L468.34,89.39 L468.53,90.01 L468.72,90.62 L468.91,91.24 L469.11,91.86 L469.31,92.47 L469.51,93.08 L469.71,93.69 L469.92,94.30 L470.13,94.91 L470.34,95.52 L470.56,96.12 L470.78,96.72 L471.00,97.32 L471.23,97.92 L471.46,98.51 L471.69,99.10 L471.93,99.69 L472.17,100.28 L472.42,100.87 L472.67,101.45 L472.92,102.03 L473.18,102.61 L473.44,103.18 L473.70,103.75 L473.97,104.32 L474.25,104.89 L474.53,105.45 L474.81,106.01 L475.10,106.56 L475.39,107.12 L475.69,107.67 L475.99,108.21 L476.30,108.76 L476.62,109.30 L476.93,109.83 L477.26,110.37 L477.59,110.89 L477.92,111.42 L478.26,111.94 L478.61,112.46 L478.96,112.97 L479.32,113.48 L479.68,113.98 L480.05,114.49 L480.43,114.98 L480.81,115.48 L481.19,115.96 L481.59,116.45 L481.99,116.93 L482.40,117.40 L482.81,117.87 L483.23,118.34 L483.66,118.80 L484.09,119.25 L484.53,119.70 L484.98,120.15 L485.43,120.59 L485.89,121.03 L486.36,121.46 L486.84,121.88 L487.32,122.30 L487.81,122.72 L488.31,123.13 L488.82,123.53 L489.33,123.93 L489.85,124.32 L490.38,124.71 L490.92,125.09 L491.46,125.46 L492.01,125.83 L492.57,126.20 L493.14,126.55 L493.70,126.90 L494.28,127.25 L494.86,127.58 L495.45,127.91 L496.04,128.23 L496.64,128.55 L497.24,128.86 L497.84,129.16 L498.45,129.45 L499.07,129.73 L499.69,130.01 L500.31,130.28 L500.93,130.54 L501.56,130.80 L502.19,131.04 L502.82,131.28 L503.45,131.50 L504.09,131.72 L504.73,131.93 L505.37,132.13 L506.01,132.32 L506.65,132.51 L507.29,132.68 L507.94,132.84 L508.58,132.99 L509.22,133.14 L509.87,133.27 L510.51,133.40 L511.15,133.51 L511.79,133.61 L512.43,133.71 L513.07,133.79 L513.71,133.86 L514.34,133.92 L514.97,133.97 L515.60,134.01 L516.23,134.03 L516.86,134.05 L517.48,134.05 L518.10,134.05 L518.71,134.03 L519.33,134.01 L519.94,133.98 L520.55,133.95 L521.16,133.91 L521.77,133.87 L522.38,133.83 L522.98,133.80 L523.59,133.76 L524.20,133.73 L524.81,133.70 L525.43,133.68 L526.04,133.67 L526.66,133.67 L527.28,133.68 L527.90,133.70 L528.52,133.74 L529.15,133.79 L529.78,133.86 L530.42,133.94 L531.07,134.05 L531.71,134.18 L532.37,134.33 L533.03,134.50 L533.69,134.70" fill="none" stroke="#000000" stroke-width="2.00" stroke-linejoin="round" stroke-linecap="round"/>
<path d="M51.74,295.65 L52.28,296.08 L52.84,296.48 L53.40,296.83 L53.97,297.16 L54.55,297.44 L55.14,297.70 L55.73,297.93 L56.33,298.12 L56.94,298.29 L57.55,298.44 L58.17,298.56 L58.79,298.65 L59.42,298.73 L60.06,298.78 L60.69,298.81 L61.34,298.83 L61.98,298.83 L62.63,298.82 L63.29,298.79 L63.94,298.75 L64.60,298.71 L65.26,298.65 L65.92,298.58 L66.59,298.51 L67.25,298.44 L67.91,298.36 L68.58,298.28 L69.24,298.20 L69.91,298.12 L70.57,298.05 L71.23,297.98 L71.89,297.91 L72.55,297.84 L73.21,297.77 L73.87,297.71 L74.53,297.65 L75.19,297.60 L75.84,297.54 L76.50,297.49 L77.16,297.45 L77.81,297.40 L78.47,297.36 L79.12,297.32 L79.77,297.28 L80.43,297.24 L81.08,297.21 L81.73,297.18 L82.38,297.15 L83.03,297.13 L83.68,297.11 L84.33,297.08 L84.98,297.07 L85.63,297.05 L86.28,297.04 L86.93,297.03 L87.58,297.02 L88.23,297.01 L88.88,297.01 L89.52,297.00 L90.17,297.00 L90.82,297.00 L91.47,297.01 L92.12,297.01 L92.76,297.02 L93.41,297.03 L94.06,297.05 L94.71,297.06 L95.36,297.08 L96.00,297.10 L96.65,297.12 L97.30,297.14 L97.95,297.16 L98.60,297.19 L99.25,297.22 L99.90,297.24 L100.55,297.28 L101.19,297.31 L101.85,297.34 L102.50,297.38 L103.15,297.42 L103.80,297.46 L104.45,297.50 L105.10,297.54 L105.75,297.59 L106.41,297.64 L107.06,297.68 L107.71,297.73 L108.37,297.78 L109.02,297.84 L109.68,297.89 L110.34,297.94 L110.99,298.00 L111.65,298.05 L112.31,298.11 L112.96,298.17 L113.62,298.22 L114.28,298.27 L114.94,298.33 L115.59,298.38 L116.25,298.43 L116.91,298.48 L117.57,298.53 L118.22,298.57 L118.88,298.62 L119.54,298.66 L120.19,298.70 L120.85,298.73 L121.50,298.76 L122.16,298.79 L122.81,298.81 L123.47,298.83 L124.12,298.85 L124.77,298.86 L125.42,298.86 L126.07,298.87 L126.72,298.86 L127.37,298.85 L128.02,298.84 L128.66,298.81 L129.31,298.79 L129.95,298.75 L130.59,298.71 L131.24,298.66 L131.88,298.61 L132.51,298.54 L133.15,298.47 L133.79,298.39 L134.42,298.31 L135.05,298.21 L135.68,298.11 L136.31,297.99 L136.94,297.87 L137.56,297.74 L138.19,297.61 L138.81,297.48 L139.44,297.35 L140.06,297.21 L140.68,297.08 L141.31,296.96 L141.93,296.84 L142.56,296.74 L143.18,296.64 L143.81,296.55 L144.44,296.49 L145.07,296.43 L145.71,296.40 L146.34,296.39 L146.98,296.40 L147.62,296.43 L148.27,296.49 L148.92,296.58 L149.57,296.70 L150.23,296.84 L150.89,297.03 L151.56,297.25 L152.23,297.49 L152.90,297.76 L153.57,298.04 L154.23,298.33 L154.88,298.61 L155.52,298.88 L156.15,299.13 L156.76,299.34 L157.34,299.52 L157.91,299.65 L158.45,299.73 L158.95,299.74 L159.43,299.68 L159.87,299.54 L160.28,299.31 L160.64,298.98 L160.96,298.56 L161.25,298.05 L161.51,297.47 L161.73,296.82 L161.94,296.13 L162.12,295.41 L162.29,294.66 L162.45,293.89 L162.60,293.13 L162.74,292.38 L162.88,291.63 L163.02,290.89 L163.15,290.16 L163.28,289.44 L163.41,288.72 L163.53,288.01 L163.65,287.31 L163.76,286.61 L163.87,285.92 L163.98,285.24 L164.08,284.56 L164.18,283.88 L164.28,283.22 L164.37,282.55 L164.46,281.89 L164.55,281.24 L164.64,280.59 L164.72,279.94 L164.80,279.30 L164.88,278.66 L164.96,278.03 L165.03,277.39 L165.11,276.76 L165.18,276.14 L165.24,275.51 L165.31,274.89 L165.38,274.27 L165.44,273.65 L165.50,273.03 L165.56,272.42 L165.62,271.80 L165.68,271.19 L165.74,270.57 L165.80,269.96 L165.85,269.34 L165.91,268.73 L165.96,268.11 L166.02,267.50 L166.07,266.88 L166.12,266.27 L166.18,265.65 L166.23,265.03 L166.28,264.40 L166.33,263.78 L166.39,263.16 L166.44,262.53 L166.49,261.90 L166.55,261.27 L166.60,260.64 L166.65,260.00 L166.71,259.37 L166.76,258.73 L166.81,258.09 L166.87,257.45 L166.92,256.81 L166.97,256.17 L167.03,255.53 L167.08,254.88 L167.13,254.24 L167.19,253.59 L167.24,252.94 L167.29,252.29 L167.35,251.64 L167.40,250.99 L167.46,250.34 L167.51,249.69 L167.56,249.03 L167.62,248.38 L167.67,247.72 L167.73,247.06 L167.78,246.41 L167.84,245.75 L167.89,245.09 L167.95,244.43 L168.00,243.77 L168.06,243.11 L168.11,242.45 L168.17,241.79 L168.22,241.13 L168.28,240.47 L168.34,239.81 L168.39,239.15 L168.45,238.49 L168.50,237.82 L168.56,237.16 L168.62,236.50 L168.67,235.84 L168.73,235.17 L168.79,234.51 L168.84,233.85 L168.90,233.19 L168.96,232.52 L169.02,231.86 L169.08,231.20 L169.13,230.54 L169.19,229.88 L169.25,229.22 L169.31,228.56 L169.37,227.90 L169.43,227.24 L169.49,226.58 L169.55,225.92 L169.61,225.26 L169.67,224.60 L169.73,223.95 L169.79,223.29 L169.85,222.64 L169.91,221.98 L169.97,221.33 L170.03,220.68 L170.09,220.02 L170.15,219.37 L170.22,218.72 L170.28,218.08 L170.34,217.43 L170.40,216.78 L170.47,216.14 L170.53,215.49 L170.60,214.85 L170.66,214.21 L170.72,213.57 L170.79,212.93 L170.85,212.29 L170.92,211.66 L170.98,211.02 L171.05,210.39 L171.12,209.76 L171.18,209.13 L171.25,208.50 L171.32,207.87 L171.38,207.25 L171.45,206.63 L171.52,206.00 L171.59,205.38 L171.66,204.77 L171.73,204.15 L171.80,203.53 L171.87,202.91 L171.94,202.28 L172.01,201.65 L172.09,201.02 L172.16,200.38 L172.24,199.73 L172.32,199.08 L172.40,198.41 L172.49,197.74 L172.57,197.06 L172.66,196.37 L172.75,195.66 L172.85,194.94 L172.94,194.21 L173.04,193.46 L173.15,192.70 L173.26,191.94 L173.39,191.19 L173.53,190.46 L173.70,189.76 L173.89,189.09 L174.11,188.48 L174.37,187.91 L174.66,187.42 L175.00,187.00 L175.37,186.67 L175.78,186.42 L176.22,186.25 L176.67,186.18 L177.12,186.19 L177.56,186.29 L177.98,186.48 L178.39,186.75 L178.78,187.09 L179.16,187.50 L179.52,187.98 L179.87,188.51 L180.21,189.09 L180.53,189.70 L180.84,190.35 L181.15,191.03 L181.44,191.73 L181.73,192.45 L182.01,193.17 L182.28,193.89 L182.54,194.60 L182.80,195.31 L183.06,196.02 L183.31,196.72 L183.55,197.41 L183.79,198.10 L184.03,198.78 L184.26,199.46 L184.49,200.13 L184.71,200.80 L184.93,201.47 L185.14,202.13 L185.35,202.78 L185.55,203.44 L185.75,204.09 L185.95,204.73 L186.15,205.37 L186.34,206.01 L186.53,206.65 L186.71,207.28 L186.90,207.91 L187.08,208.54 L187.25,209.16 L187.43,209.79 L187.60,210.41 L187.77,211.03 L187.94,211.64 L188.11,212.26 L188.27,212.87 L188.43,213.49 L188.60,214.10 L188.76,214.71 L188.92,215.32 L189.07,215.93 L189.23,216.54 L189.39,217.14 L189.54,217.75 L189.70,218.36 L189.85,218.97 L190.01,219.58 L190.16,220.19 L190.32,220.80 L190.47,221.41 L190.63,222.02 L190.79,222.63 L190.94,223.24 L191.10,223.86 L191.26,224.47 L191.41,225.09 L191.57,225.70 L191.73,226.32 L191.89,226.94 L192.05,227.56 L192.21,228.18 L192.37,228.80 L192.53,229.43 L192.70,230.05 L192.86,230.67 L193.02,231.30 L193.19,231.92 L193.35,232.55 L193.52,233.18 L193.68,233.80 L193.85,234.43 L194.02,235.06 L194.19,235.69 L194.35,236.32 L194.52,236.95 L194.69,237.58 L194.86,238.21 L195.03,238.84 L195.21,239.47 L195.38,240.10 L195.55,240.74 L195.73,241.37 L195.90,242.00 L196.08,242.64 L196.25,243.27 L196.43,243.90 L196.61,244.54 L196.79,245.17 L196.97,245.81 L197.15,246.44 L197.33,247.08 L197.51,247.71 L197.69,248.35 L197.87,248.98 L198.06,249.62 L198.24,250.25 L198.43,250.89 L198.61,251.52 L198.80,252.16 L198.99,252.79 L199.18,253.43 L199.37,254.06 L199.56,254.69 L199.75,255.33 L199.94,255.96 L200.13,256.60 L200.33,257.23 L200.52,257.86 L200.72,258.49 L200.91,259.13 L201.11,259.76 L201.31,260.39 L201.51,261.02 L201.71,261.65 L201.91,262.28 L202.11,262.91 L202.32,263.54 L202.52,264.17 L202.73,264.80 L202.93,265.42 L203.14,266.05 L203.35,266.68 L203.56,267.30 L203.77,267.92 L203.98,268.55 L204.20,269.17 L204.42,269.78 L204.64,270.40 L204.87,271.01 L205.10,271.63 L205.33,272.23 L205.57,272.84 L205.82,273.44 L206.06,274.04 L206.32,274.64 L206.58,275.23 L206.84,275.82 L207.11,276.40 L207.39,276.98 L207.68,277.56 L207.97,278.13 L208.27,278.69 L208.58,279.25 L208.89,279.81 L209.21,280.35 L209.55,280.90 L209.89,281.43 L210.24,281.96 L210.60,282.49 L210.97,283.00 L211.35,283.51 L211.74,284.02 L212.15,284.51 L212.56,285.00 L212.98,285.48 L213.41,285.96 L213.85,286.42 L214.30,286.88 L214.76,287.33 L215.23,287.78 L215.70,288.21 L216.19,288.64 L216.68,289.06 L217.18,289.47 L217.69,289.88 L218.20,290.27 L218.73,290.66 L219.26,291.03 L219.80,291.40 L220.34,291.76 L220.89,292.12 L221.45,292.46 L222.01,292.79 L222.58,293.12 L223.16,293.44 L223.74,293.74 L224.33,294.04 L224.92,294.33 L225.52,294.61 L226.12,294.88 L226.73,295.14 L227.34,295.38 L227.96,295.62 L228.58,295.85 L229.20,296.07 L229.83,296.28 L230.46,296.48 L231.10,296.67 L231.74,296.85 L232.38,297.02 L233.02,297.18 L233.67,297.33 L234.32,297.46 L234.97,297.59 L235.63,297.70 L236.28,297.81 L236.94,297.90 L237.60,297.98 L238.26,298.05 L238.92,298.11 L239.58,298.16 L240.24,298.20 L240.90,298.22 L241.57,298.23 L242.23,298.23 L242.89,298.22 L243.56,298.20 L244.22,298.17 L244.88,298.12 L245.54,298.06 L246.20,297.99 L246.86,297.91 L247.52,297.82 L248.17,297.73 L248.83,297.63 L249.48,297.53 L250.13,297.43 L250.78,297.33 L251.43,297.24 L252.07,297.15 L252.71,297.06 L253.35,296.98 L253.99,296.91 L254.62,296.86 L255.25,296.82 L255.88,296.79 L256.50,296.78 L257.13,296.78 L257.74,296.81 L258.36,296.86 L258.97,296.93 L259.57,297.03 L260.18,297.16 L260.77,297.31 L261.37,297.50 L261.96,297.72 L262.54,297.97 L263.12,298.26 L263.69,298.58 L264.26,298.95 L264.83,299.35 L265.39,299.80 L265.94,300.30" fill="none" stroke="#cc0c0c" stroke-width="2.00" stroke-linejoin="round" stroke-linecap="round"/>
<path d="M51.75,295.45 L52.29,295.86 L52.85,296.24 L53.41,296.58 L53.98,296.89 L54.56,297.17 L55.14,297.41 L55.73,297.63 L56.33,297.82 L56.93,297.99 L57.54,298.13 L58.16,298.24 L58.78,298.33 L59.40,298.41 L60.03,298.46 L60.66,298.50 L61.30,298.51 L61.94,298.52 L62.58,298.51 L63.23,298.48 L63.88,298.45 L64.53,298.40 L65.18,298.35 L65.84,298.29 L66.49,298.22 L67.15,298.15 L67.80,298.08 L68.46,298.00 L69.12,297.92 L69.77,297.85 L70.43,297.77 L71.08,297.70 L71.74,297.63 L72.39,297.57 L73.04,297.50 L73.70,297.44 L74.35,297.38 L75.00,297.33 L75.65,297.28 L76.30,297.22 L76.95,297.18 L77.59,297.13 L78.24,297.09 L78.89,297.04 L79.53,297.01 L80.18,296.97 L80.82,296.94 L81.47,296.90 L82.11,296.87 L82.76,296.85 L83.40,296.82 L84.04,296.80 L84.69,296.78 L85.33,296.76 L85.97,296.75 L86.61,296.73 L87.26,296.72 L87.90,296.71 L88.54,296.70 L89.18,296.70 L89.82,296.70 L90.46,296.70 L91.11,296.70 L91.75,296.70 L92.39,296.71 L93.03,296.71 L93.67,296.72 L94.31,296.74 L94.95,296.75 L95.59,296.77 L96.23,296.78 L96.88,296.80 L97.52,296.82 L98.16,296.85 L98.80,296.87 L99.44,296.90 L100.09,296.93 L100.73,296.96 L101.37,296.99 L102.02,297.03 L102.66,297.07 L103.31,297.10 L103.95,297.14 L104.60,297.19 L105.24,297.23 L105.89,297.28 L106.54,297.32 L107.18,297.37 L107.83,297.42 L108.48,297.48 L109.13,297.53 L109.78,297.58 L110.43,297.64 L111.08,297.70 L111.73,297.75 L112.38,297.81 L113.03,297.87 L113.68,297.92 L114.33,297.98 L114.98,298.04 L115.64,298.09 L116.29,298.14 L116.94,298.20 L117.59,298.24 L118.24,298.29 L118.89,298.34 L119.54,298.38 L120.19,298.42 L120.84,298.46 L121.49,298.49 L122.14,298.52 L122.79,298.54 L123.43,298.56 L124.08,298.58 L124.72,298.59 L125.37,298.60 L126.01,298.60 L126.65,298.60 L127.30,298.59 L127.94,298.58 L128.58,298.56 L129.21,298.53 L129.85,298.49 L130.49,298.45 L131.12,298.40 L131.75,298.35 L132.38,298.28 L133.01,298.21 L133.64,298.13 L134.27,298.04 L134.89,297.95 L135.52,297.84 L136.14,297.73 L136.76,297.60 L137.38,297.47 L137.99,297.33 L138.61,297.20 L139.23,297.06 L139.84,296.92 L140.46,296.78 L141.07,296.65 L141.69,296.53 L142.30,296.41 L142.92,296.30 L143.54,296.21 L144.16,296.13 L144.79,296.07 L145.41,296.03 L146.04,296.01 L146.67,296.01 L147.31,296.03 L147.95,296.08 L148.59,296.16 L149.23,296.27 L149.88,296.41 L150.54,296.58 L151.20,296.79 L151.87,297.03 L152.53,297.31 L153.20,297.60 L153.86,297.90 L154.51,298.20 L155.16,298.50 L155.80,298.78 L156.41,299.04 L157.02,299.26 L157.60,299.45 L158.16,299.59 L158.69,299.67 L159.20,299.69 L159.67,299.63 L160.11,299.49 L160.51,299.26 L160.88,298.94 L161.20,298.52 L161.50,298.01 L161.76,297.44 L161.99,296.80 L162.20,296.12 L162.39,295.40 L162.57,294.66 L162.74,293.90 L162.89,293.14 L163.05,292.40 L163.20,291.66 L163.34,290.92 L163.48,290.20 L163.62,289.48 L163.75,288.77 L163.87,288.06 L164.00,287.37 L164.12,286.67 L164.23,285.99 L164.34,285.31 L164.45,284.63 L164.56,283.96 L164.66,283.30 L164.76,282.64 L164.85,281.98 L164.95,281.33 L165.04,280.69 L165.12,280.05 L165.21,279.41 L165.29,278.77 L165.37,278.14 L165.45,277.51 L165.52,276.89 L165.59,276.26 L165.66,275.64 L165.73,275.03 L165.80,274.41 L165.87,273.80 L165.93,273.18 L165.99,272.57 L166.05,271.96 L166.11,271.36 L166.17,270.75 L166.23,270.14 L166.29,269.53 L166.34,268.93 L166.40,268.32 L166.45,267.71 L166.51,267.10 L166.56,266.49 L166.62,265.88 L166.67,265.27 L166.72,264.66 L166.78,264.05 L166.83,263.43 L166.89,262.82 L166.94,262.20 L166.99,261.58 L167.05,260.96 L167.10,260.33 L167.16,259.71 L167.21,259.08 L167.27,258.46 L167.32,257.83 L167.38,257.20 L167.43,256.57 L167.48,255.94 L167.54,255.31 L167.59,254.68 L167.65,254.04 L167.70,253.41 L167.76,252.77 L167.81,252.13 L167.87,251.49 L167.92,250.85 L167.98,250.21 L168.03,249.57 L168.09,248.93 L168.14,248.29 L168.20,247.64 L168.26,247.00 L168.31,246.35 L168.37,245.71 L168.42,245.06 L168.48,244.41 L168.53,243.77 L168.59,243.12 L168.65,242.47 L168.70,241.82 L168.76,241.17 L168.81,240.52 L168.87,239.87 L168.93,239.22 L168.98,238.57 L169.04,237.91 L169.10,237.26 L169.15,236.61 L169.21,235.95 L169.27,235.30 L169.32,234.65 L169.38,233.99 L169.44,233.34 L169.50,232.68 L169.55,232.03 L169.61,231.38 L169.67,230.72 L169.72,230.07 L169.78,229.41 L169.84,228.76 L169.90,228.10 L169.96,227.45 L170.01,226.79 L170.07,226.14 L170.13,225.48 L170.19,224.83 L170.25,224.18 L170.30,223.52 L170.36,222.87 L170.42,222.22 L170.48,221.56 L170.54,220.91 L170.60,220.26 L170.66,219.61 L170.72,218.96 L170.77,218.30 L170.83,217.65 L170.89,217.00 L170.95,216.35 L171.01,215.71 L171.07,215.06 L171.13,214.41 L171.19,213.76 L171.25,213.12 L171.31,212.47 L171.37,211.83 L171.43,211.18 L171.49,210.54 L171.55,209.90 L171.61,209.25 L171.67,208.61 L171.74,207.97 L171.80,207.33 L171.86,206.70 L171.92,206.06 L171.98,205.42 L172.04,204.79 L172.10,204.15 L172.17,203.52 L172.24,202.89 L172.31,202.25 L172.38,201.62 L172.46,200.99 L172.54,200.36 L172.63,199.73 L172.72,199.11 L172.82,198.48 L172.93,197.85 L173.04,197.22 L173.17,196.60 L173.30,195.97 L173.44,195.34 L173.59,194.72 L173.75,194.09 L173.93,193.47 L174.11,192.84 L174.31,192.22 L174.52,191.59 L174.75,190.97 L174.99,190.34 L175.24,189.72 L175.51,189.10 L175.82,188.53 L176.20,188.10 L176.67,187.91 L177.26,187.97 L177.90,188.25 L178.53,188.65 L179.10,189.10 L179.61,189.58 L180.05,190.10 L180.44,190.64 L180.78,191.21 L181.09,191.80 L181.36,192.40 L181.60,193.02 L181.82,193.65 L182.03,194.28 L182.22,194.92 L182.42,195.55 L182.62,196.18 L182.82,196.81 L183.03,197.43 L183.23,198.05 L183.44,198.67 L183.64,199.29 L183.85,199.90 L184.06,200.51 L184.27,201.12 L184.48,201.73 L184.69,202.33 L184.91,202.94 L185.12,203.54 L185.33,204.14 L185.55,204.73 L185.76,205.33 L185.97,205.93 L186.19,206.52 L186.40,207.12 L186.62,207.71 L186.83,208.30 L187.04,208.89 L187.25,209.48 L187.47,210.07 L187.68,210.67 L187.89,211.26 L188.10,211.85 L188.30,212.44 L188.51,213.03 L188.71,213.62 L188.92,214.22 L189.12,214.81 L189.32,215.40 L189.52,216.00 L189.72,216.60 L189.91,217.20 L190.10,217.79 L190.29,218.40 L190.48,219.00 L190.67,219.60 L190.85,220.21 L191.03,220.82 L191.21,221.43 L191.38,222.05 L191.55,222.66 L191.72,223.28 L191.89,223.90 L192.05,224.52 L192.22,225.15 L192.38,225.77 L192.53,226.40 L192.69,227.03 L192.84,227.67 L192.99,228.30 L193.14,228.94 L193.29,229.57 L193.44,230.21 L193.58,230.85 L193.72,231.49 L193.87,232.13 L194.01,232.78 L194.15,233.42 L194.28,234.07 L194.42,234.72 L194.56,235.36 L194.70,236.01 L194.83,236.66 L194.97,237.31 L195.10,237.96 L195.24,238.61 L195.37,239.26 L195.51,239.92 L195.64,240.57 L195.78,241.22 L195.91,241.87 L196.05,242.52 L196.18,243.18 L196.32,243.83 L196.46,244.48 L196.59,245.13 L196.73,245.79 L196.87,246.44 L197.01,247.09 L197.16,247.74 L197.30,248.39 L197.44,249.04 L197.59,249.69 L197.74,250.34 L197.89,250.98 L198.04,251.63 L198.19,252.28 L198.35,252.92 L198.51,253.56 L198.67,254.20 L198.83,254.85 L198.99,255.48 L199.16,256.12 L199.33,256.76 L199.50,257.39 L199.68,258.03 L199.85,258.66 L200.03,259.29 L200.22,259.91 L200.41,260.54 L200.60,261.16 L200.79,261.78 L200.99,262.40 L201.19,263.02 L201.39,263.64 L201.60,264.25 L201.82,264.86 L202.03,265.47 L202.25,266.07 L202.48,266.67 L202.71,267.27 L202.94,267.87 L203.18,268.46 L203.42,269.05 L203.67,269.64 L203.93,270.23 L204.18,270.81 L204.45,271.39 L204.71,271.96 L204.99,272.53 L205.27,273.10 L205.55,273.66 L205.84,274.22 L206.14,274.78 L206.44,275.34 L206.75,275.88 L207.06,276.43 L207.38,276.97 L207.70,277.51 L208.04,278.04 L208.37,278.57 L208.72,279.10 L209.07,279.62 L209.43,280.13 L209.79,280.65 L210.17,281.15 L210.54,281.66 L210.93,282.15 L211.32,282.65 L211.72,283.13 L212.13,283.62 L212.55,284.10 L212.97,284.57 L213.40,285.04 L213.84,285.50 L214.28,285.95 L214.73,286.40 L215.19,286.85 L215.65,287.29 L216.12,287.72 L216.59,288.14 L217.08,288.56 L217.57,288.98 L218.06,289.38 L218.56,289.78 L219.07,290.17 L219.58,290.55 L220.10,290.93 L220.62,291.30 L221.15,291.66 L221.68,292.01 L222.22,292.36 L222.76,292.69 L223.31,293.02 L223.87,293.34 L224.43,293.65 L224.99,293.96 L225.56,294.25 L226.13,294.53 L226.71,294.81 L227.29,295.07 L227.87,295.33 L228.46,295.57 L229.06,295.81 L229.66,296.04 L230.26,296.25 L230.86,296.46 L231.47,296.65 L232.08,296.84 L232.70,297.01 L233.32,297.18 L233.94,297.33 L234.56,297.47 L235.19,297.60 L235.82,297.72 L236.46,297.82 L237.09,297.92 L237.73,298.00 L238.38,298.07 L239.02,298.13 L239.67,298.18 L240.32,298.21 L240.97,298.23 L241.62,298.24 L242.27,298.23 L242.93,298.21 L243.59,298.18 L244.25,298.14 L244.91,298.08 L245.57,298.01 L246.23,297.92 L246.90,297.83 L247.56,297.73 L248.23,297.62 L248.89,297.51 L249.55,297.39 L250.22,297.28 L250.88,297.16 L251.53,297.05 L252.19,296.95 L252.84,296.85 L253.49,296.76 L254.14,296.68 L254.79,296.61 L255.43,296.56 L256.06,296.52 L256.69,296.50 L257.32,296.50 L257.94,296.52 L258.55,296.57 L259.16,296.64 L259.76,296.74 L260.36,296.87 L260.94,297.03 L261.52,297.22 L262.10,297.45 L262.66,297.72 L263.22,298.02 L263.76,298.36 L264.30,298.75 L264.82,299.18 L265.34,299.65 L265.85,300.18" fill="none" stroke="#000000" stroke-width="2.00" stroke-linejoin="round" stroke-linecap="round"/>
<path d="M318.59,296.43 L319.14,296.82 L319.69,297.17 L320.25,297.50 L320.82,297.81 L321.39,298.09 L321.97,298.34 L322.56,298.57 L323.15,298.78 L323.74,298.97 L324.34,299.14 L324.94,299.28 L325.55,299.41 L326.16,299.52 L326.78,299.62 L327.40,299.69 L328.02,299.75 L328.65,299.80 L329.28,299.83 L329.91,299.85 L330.55,299.86 L331.18,299.85 L331.82,299.84 L332.46,299.81 L333.11,299.78 L333.75,299.73 L334.40,299.68 L335.05,299.63 L335.69,299.57 L336.34,299.50 L336.99,299.43 L337.64,299.36 L338.29,299.28 L338.94,299.21 L339.59,299.13 L340.24,299.05 L340.89,298.98 L341.53,298.90 L342.18,298.83 L342.83,298.75 L343.47,298.68 L344.11,298.61 L344.76,298.54 L345.40,298.47 L346.04,298.41 L346.69,298.34 L347.33,298.28 L347.97,298.22 L348.61,298.16 L349.25,298.10 L349.89,298.04 L350.53,297.99 L351.17,297.93 L351.81,297.88 L352.45,297.83 L353.08,297.79 L353.72,297.74 L354.36,297.70 L355.00,297.66 L355.63,297.63 L356.27,297.59 L356.91,297.56 L357.54,297.53 L358.18,297.51 L358.82,297.48 L359.45,297.46 L360.09,297.44 L360.72,297.43 L361.36,297.42 L362.00,297.41 L362.63,297.40 L363.27,297.40 L363.90,297.40 L364.54,297.41 L365.17,297.42 L365.81,297.43 L366.45,297.45 L367.08,297.47 L367.72,297.49 L368.36,297.52 L368.99,297.55 L369.63,297.58 L370.27,297.62 L370.91,297.66 L371.54,297.71 L372.18,297.76 L372.82,297.82 L373.46,297.88 L374.10,297.95 L374.74,298.02 L375.38,298.09 L376.02,298.17 L376.66,298.25 L377.30,298.34 L377.94,298.43 L378.59,298.53 L379.23,298.62 L379.87,298.72 L380.51,298.83 L381.16,298.93 L381.80,299.03 L382.44,299.14 L383.09,299.24 L383.73,299.34 L384.37,299.44 L385.01,299.54 L385.66,299.64 L386.30,299.73 L386.94,299.82 L387.58,299.91 L388.22,299.99 L388.86,300.07 L389.51,300.14 L390.15,300.21 L390.78,300.27 L391.42,300.32 L392.06,300.37 L392.70,300.41 L393.34,300.44 L393.97,300.46 L394.61,300.47 L395.24,300.47 L395.87,300.46 L396.51,300.45 L397.14,300.41 L397.77,300.37 L398.40,300.32 L399.02,300.25 L399.65,300.17 L400.28,300.07 L400.90,299.96 L401.52,299.84 L402.14,299.70 L402.76,299.54 L403.38,299.37 L404.00,299.18 L404.61,298.98 L405.23,298.75 L405.84,298.51 L406.45,298.25 L407.06,297.98 L407.67,297.70 L408.27,297.41 L408.87,297.14 L409.47,296.87 L410.07,296.62 L410.67,296.39 L411.26,296.20 L411.86,296.04 L412.45,295.92 L413.03,295.85 L413.62,295.83 L414.20,295.87 L414.78,295.97 L415.37,296.11 L415.95,296.29 L416.55,296.51 L417.15,296.76 L417.75,297.03 L418.37,297.32 L419.01,297.62 L419.65,297.93 L420.30,298.23 L420.96,298.51 L421.61,298.75 L422.24,298.95 L422.86,299.09 L423.45,299.15 L424.01,299.13 L424.53,299.00 L425.02,298.78 L425.46,298.47 L425.88,298.09 L426.25,297.63 L426.60,297.12 L426.92,296.56 L427.21,295.96 L427.48,295.33 L427.72,294.68 L427.94,294.02 L428.15,293.35 L428.33,292.70 L428.50,292.05 L428.66,291.40 L428.80,290.76 L428.93,290.12 L429.06,289.48 L429.17,288.85 L429.28,288.22 L429.39,287.59 L429.49,286.96 L429.60,286.33 L429.70,285.70 L429.80,285.07 L429.90,284.44 L430.01,283.81 L430.11,283.18 L430.21,282.56 L430.31,281.93 L430.41,281.30 L430.51,280.67 L430.60,280.04 L430.70,279.41 L430.80,278.78 L430.90,278.15 L430.99,277.52 L431.09,276.89 L431.18,276.27 L431.28,275.64 L431.37,275.01 L431.47,274.38 L431.56,273.75 L431.65,273.12 L431.75,272.49 L431.84,271.86 L431.93,271.23 L432.02,270.60 L432.11,269.97 L432.20,269.34 L432.29,268.71 L432.38,268.08 L432.47,267.45 L432.56,266.82 L432.64,266.19 L432.73,265.56 L432.82,264.93 L432.90,264.30 L432.99,263.67 L433.07,263.03 L433.16,262.40 L433.24,261.77 L433.33,261.14 L433.41,260.51 L433.49,259.88 L433.57,259.24 L433.66,258.61 L433.74,257.98 L433.82,257.34 L433.90,256.71 L433.98,256.08 L434.06,255.44 L434.13,254.81 L434.21,254.17 L434.29,253.54 L434.37,252.91 L434.44,252.27 L434.52,251.63 L434.60,251.00 L434.67,250.36 L434.75,249.73 L434.82,249.09 L434.89,248.45 L434.97,247.82 L435.04,247.18 L435.11,246.54 L435.18,245.90 L435.25,245.26 L435.32,244.63 L435.39,243.99 L435.46,243.35 L435.53,242.71 L435.60,242.07 L435.67,241.43 L435.74,240.78 L435.80,240.14 L435.87,239.50 L435.94,238.86 L436.00,238.22 L436.07,237.57 L436.13,236.93 L436.20,236.29 L436.26,235.64 L436.32,235.00 L436.39,234.35 L436.45,233.71 L436.51,233.06 L436.57,232.41 L436.63,231.77 L436.69,231.12 L436.75,230.47 L436.81,229.83 L436.87,229.18 L436.93,228.53 L436.99,227.89 L437.05,227.24 L437.11,226.59 L437.17,225.95 L437.22,225.30 L437.28,224.66 L437.34,224.01 L437.40,223.37 L437.46,222.73 L437.52,222.08 L437.58,221.44 L437.63,220.80 L437.69,220.16 L437.75,219.52 L437.81,218.88 L437.87,218.24 L437.93,217.61 L437.99,216.97 L438.05,216.33 L438.11,215.70 L438.17,215.07 L438.23,214.44 L438.29,213.81 L438.36,213.18 L438.42,212.55 L438.48,211.93 L438.54,211.30 L438.61,210.68 L438.67,210.06 L438.74,209.44 L438.80,208.83 L438.87,208.21 L438.94,207.60 L439.01,206.99 L439.07,206.38 L439.14,205.77 L439.21,205.17 L439.29,204.56 L439.36,203.96 L439.44,203.35 L439.52,202.74 L439.61,202.13 L439.70,201.51 L439.80,200.88 L439.90,200.25 L440.02,199.61 L440.14,198.96 L440.27,198.30 L440.41,197.63 L440.57,196.94 L440.73,196.24 L440.91,195.53 L441.10,194.80 L441.30,194.06 L441.52,193.35 L441.76,192.67 L442.02,192.05 L442.30,191.51 L442.60,191.06 L442.92,190.73 L443.27,190.55 L443.65,190.52 L444.05,190.66 L444.47,190.94 L444.90,191.32 L445.31,191.76 L445.71,192.22 L446.09,192.71 L446.44,193.21 L446.78,193.73 L447.11,194.27 L447.42,194.82 L447.71,195.38 L447.99,195.95 L448.26,196.54 L448.52,197.13 L448.77,197.73 L449.01,198.34 L449.24,198.96 L449.46,199.58 L449.68,200.21 L449.90,200.84 L450.11,201.46 L450.32,202.09 L450.52,202.72 L450.73,203.35 L450.94,203.98 L451.14,204.60 L451.34,205.23 L451.55,205.85 L451.75,206.48 L451.95,207.10 L452.15,207.72 L452.35,208.34 L452.55,208.96 L452.75,209.58 L452.95,210.19 L453.14,210.81 L453.34,211.43 L453.54,212.04 L453.73,212.66 L453.93,213.27 L454.12,213.88 L454.31,214.49 L454.51,215.11 L454.70,215.72 L454.89,216.33 L455.08,216.94 L455.27,217.55 L455.46,218.15 L455.65,218.76 L455.84,219.37 L456.03,219.98 L456.21,220.58 L456.40,221.19 L456.59,221.80 L456.77,222.40 L456.96,223.01 L457.15,223.61 L457.33,224.22 L457.52,224.82 L457.70,225.42 L457.89,226.03 L458.07,226.63 L458.25,227.23 L458.44,227.84 L458.62,228.44 L458.80,229.04 L458.99,229.65 L459.17,230.25 L459.35,230.85 L459.53,231.45 L459.72,232.06 L459.90,232.66 L460.08,233.26 L460.26,233.86 L460.44,234.47 L460.62,235.07 L460.80,235.67 L460.99,236.28 L461.17,236.88 L461.35,237.48 L461.53,238.09 L461.71,238.69 L461.89,239.30 L462.07,239.90 L462.26,240.51 L462.44,241.11 L462.62,241.72 L462.80,242.32 L462.98,242.93 L463.16,243.54 L463.35,244.15 L463.53,244.75 L463.71,245.36 L463.89,245.97 L464.08,246.58 L464.26,247.19 L464.44,247.80 L464.63,248.41 L464.81,249.02 L464.99,249.64 L465.18,250.25 L465.36,250.87 L465.55,251.48 L465.74,252.10 L465.92,252.71 L466.11,253.33 L466.29,253.95 L466.48,254.57 L466.67,255.19 L466.86,255.81 L467.05,256.43 L467.24,257.05 L467.43,257.67 L467.62,258.29 L467.82,258.91 L468.01,259.53 L468.21,260.15 L468.41,260.77 L468.61,261.39 L468.81,262.01 L469.01,262.63 L469.22,263.25 L469.42,263.87 L469.63,264.49 L469.84,265.10 L470.06,265.72 L470.27,266.34 L470.49,266.95 L470.71,267.56 L470.94,268.17 L471.16,268.79 L471.39,269.39 L471.62,270.00 L471.86,270.61 L472.10,271.21 L472.34,271.82 L472.58,272.42 L472.83,273.02 L473.08,273.61 L473.34,274.21 L473.60,274.80 L473.86,275.39 L474.13,275.98 L474.40,276.57 L474.67,277.15 L474.95,277.73 L475.23,278.31 L475.52,278.89 L475.81,279.46 L476.11,280.03 L476.41,280.60 L476.72,281.16 L477.03,281.72 L477.34,282.28 L477.66,282.84 L477.99,283.39 L478.32,283.94 L478.65,284.48 L478.99,285.02 L479.34,285.56 L479.69,286.09 L480.05,286.62 L480.42,287.14 L480.78,287.67 L481.16,288.18 L481.54,288.69 L481.93,289.20 L482.32,289.71 L482.72,290.20 L483.13,290.69 L483.54,291.18 L483.96,291.66 L484.39,292.12 L484.82,292.59 L485.26,293.04 L485.71,293.48 L486.17,293.91 L486.63,294.33 L487.10,294.74 L487.58,295.13 L488.07,295.52 L488.56,295.89 L489.06,296.24 L489.57,296.58 L490.09,296.91 L490.62,297.22 L491.15,297.51 L491.70,297.79 L492.25,298.05 L492.81,298.29 L493.38,298.51 L493.96,298.71 L494.55,298.89 L495.15,299.06 L495.75,299.21 L496.37,299.34 L496.98,299.46 L497.61,299.56 L498.24,299.64 L498.88,299.71 L499.52,299.77 L500.17,299.81 L500.82,299.85 L501.48,299.87 L502.14,299.87 L502.80,299.87 L503.47,299.86 L504.14,299.83 L504.81,299.80 L505.48,299.76 L506.16,299.71 L506.84,299.66 L507.51,299.59 L508.19,299.52 L508.87,299.45 L509.54,299.37 L510.22,299.28 L510.89,299.19 L511.57,299.10 L512.24,299.01 L512.90,298.91 L513.57,298.81 L514.23,298.71 L514.89,298.61 L515.54,298.51 L516.19,298.41 L516.84,298.32 L517.48,298.22 L518.12,298.13 L518.75,298.05 L519.38,297.97 L520.00,297.90 L520.62,297.84 L521.24,297.79 L521.85,297.75 L522.46,297.72 L523.07,297.71 L523.67,297.71 L524.27,297.73 L524.86,297.77 L525.46,297.83 L526.05,297.90 L526.64,298.00 L527.22,298.12 L527.80,298.27 L528.39,298.44 L528.96,298.64 L529.54,298.86 L530.11,299.12 L530.68,299.40 L531.25,299.72 L531.82,300.07 L532.39,300.45 L532.95,300.87 L533.52,301.33" fill="none" stroke="#cc0c0c" stroke-width="2.00" stroke-linejoin="round" stroke-linecap="round"/>
<path d="M318.59,296.94 L319.14,297.32 L319.69,297.67 L320.26,298.00 L320.83,298.31 L321.40,298.58 L321.98,298.84 L322.57,299.07 L323.16,299.28 L323.76,299.47 L324.36,299.63 L324.97,299.78 L325.58,299.91 L326.19,300.02 L326.81,300.11 L327.43,300.19 L328.06,300.25 L328.69,300.30 L329.32,300.33 L329.95,300.35 L330.59,300.35 L331.23,300.35 L331.87,300.33 L332.52,300.31 L333.16,300.27 L333.81,300.23 L334.46,300.18 L335.11,300.13 L335.76,300.07 L336.41,300.00 L337.06,299.93 L337.71,299.86 L338.36,299.78 L339.01,299.71 L339.67,299.63 L340.32,299.55 L340.97,299.48 L341.62,299.40 L342.26,299.33 L342.91,299.25 L343.56,299.18 L344.21,299.11 L344.85,299.04 L345.50,298.97 L346.14,298.91 L346.79,298.84 L347.43,298.78 L348.07,298.71 L348.72,298.65 L349.36,298.59 L350.00,298.54 L350.64,298.48 L351.28,298.43 L351.92,298.37 L352.57,298.33 L353.21,298.28 L353.85,298.23 L354.48,298.19 L355.12,298.15 L355.76,298.11 L356.40,298.08 L357.04,298.04 L357.68,298.02 L358.32,297.99 L358.96,297.96 L359.60,297.94 L360.23,297.93 L360.87,297.91 L361.51,297.90 L362.15,297.89 L362.79,297.89 L363.42,297.88 L364.06,297.89 L364.70,297.89 L365.34,297.90 L365.98,297.91 L366.61,297.93 L367.25,297.95 L367.89,297.97 L368.53,298.00 L369.17,298.03 L369.81,298.07 L370.45,298.11 L371.09,298.16 L371.73,298.21 L372.37,298.26 L373.01,298.32 L373.65,298.38 L374.29,298.45 L374.94,298.52 L375.58,298.60 L376.22,298.68 L376.86,298.77 L377.51,298.86 L378.15,298.96 L378.80,299.06 L379.44,299.16 L380.09,299.26 L380.73,299.37 L381.38,299.47 L382.02,299.58 L382.67,299.69 L383.31,299.79 L383.96,299.90 L384.60,300.00 L385.25,300.10 L385.89,300.20 L386.53,300.30 L387.18,300.39 L387.82,300.48 L388.47,300.56 L389.11,300.64 L389.75,300.71 L390.39,300.77 L391.03,300.83 L391.67,300.88 L392.31,300.93 L392.95,300.96 L393.59,300.99 L394.23,301.00 L394.87,301.01 L395.50,301.01 L396.14,300.99 L396.77,300.97 L397.40,300.93 L398.04,300.88 L398.67,300.81 L399.30,300.73 L399.93,300.64 L400.55,300.53 L401.18,300.41 L401.80,300.27 L402.43,300.12 L403.05,299.94 L403.67,299.76 L404.29,299.55 L404.90,299.32 L405.52,299.08 L406.13,298.81 L406.75,298.53 L407.36,298.24 L407.96,297.95 L408.57,297.66 L409.18,297.38 L409.78,297.12 L410.38,296.89 L410.97,296.68 L411.57,296.52 L412.16,296.41 L412.75,296.35 L413.34,296.35 L413.92,296.42 L414.51,296.55 L415.09,296.74 L415.68,296.96 L416.27,297.21 L416.87,297.48 L417.48,297.75 L418.10,298.01 L418.73,298.25 L419.37,298.45 L420.03,298.62 L420.70,298.75 L421.36,298.84 L422.01,298.88 L422.65,298.87 L423.26,298.82 L423.85,298.72 L424.39,298.56 L424.90,298.35 L425.36,298.10 L425.79,297.79 L426.19,297.45 L426.55,297.06 L426.88,296.63 L427.19,296.17 L427.47,295.67 L427.72,295.14 L427.95,294.59 L428.15,294.01 L428.34,293.40 L428.51,292.78 L428.67,292.13 L428.81,291.47 L428.94,290.80 L429.06,290.12 L429.17,289.43 L429.28,288.74 L429.38,288.04 L429.48,287.34 L429.58,286.65 L429.67,285.96 L429.77,285.27 L429.87,284.58 L429.97,283.90 L430.07,283.22 L430.16,282.54 L430.26,281.87 L430.36,281.20 L430.45,280.53 L430.55,279.87 L430.65,279.20 L430.74,278.54 L430.84,277.88 L430.94,277.23 L431.03,276.57 L431.13,275.92 L431.22,275.27 L431.32,274.62 L431.41,273.98 L431.51,273.34 L431.60,272.69 L431.69,272.05 L431.79,271.42 L431.88,270.78 L431.97,270.14 L432.06,269.51 L432.16,268.88 L432.25,268.25 L432.34,267.62 L432.43,266.99 L432.52,266.37 L432.61,265.74 L432.70,265.12 L432.79,264.49 L432.88,263.87 L432.97,263.25 L433.06,262.63 L433.14,262.01 L433.23,261.39 L433.32,260.77 L433.40,260.16 L433.49,259.54 L433.57,258.92 L433.66,258.31 L433.74,257.69 L433.83,257.08 L433.91,256.46 L433.99,255.85 L434.07,255.23 L434.16,254.62 L434.24,254.00 L434.32,253.38 L434.40,252.77 L434.48,252.15 L434.56,251.54 L434.63,250.92 L434.71,250.30 L434.79,249.69 L434.86,249.07 L434.94,248.45 L435.01,247.83 L435.09,247.21 L435.16,246.59 L435.23,245.97 L435.31,245.35 L435.38,244.72 L435.45,244.10 L435.52,243.47 L435.59,242.85 L435.66,242.22 L435.72,241.59 L435.79,240.96 L435.86,240.33 L435.92,239.69 L435.99,239.06 L436.05,238.42 L436.12,237.78 L436.18,237.14 L436.24,236.50 L436.30,235.85 L436.36,235.21 L436.42,234.56 L436.48,233.91 L436.53,233.26 L436.59,232.60 L436.65,231.95 L436.70,231.29 L436.76,230.63 L436.81,229.98 L436.87,229.32 L436.92,228.66 L436.98,228.00 L437.03,227.34 L437.09,226.67 L437.14,226.01 L437.19,225.35 L437.25,224.69 L437.30,224.03 L437.36,223.37 L437.41,222.71 L437.46,222.04 L437.52,221.39 L437.58,220.73 L437.63,220.07 L437.69,219.41 L437.74,218.76 L437.80,218.10 L437.86,217.45 L437.92,216.80 L437.98,216.15 L438.04,215.50 L438.10,214.86 L438.17,214.21 L438.23,213.57 L438.30,212.93 L438.36,212.30 L438.43,211.66 L438.50,211.03 L438.57,210.40 L438.64,209.78 L438.71,209.16 L438.79,208.54 L438.87,207.92 L438.94,207.31 L439.02,206.71 L439.10,206.10 L439.19,205.50 L439.27,204.91 L439.36,204.31 L439.45,203.72 L439.54,203.12 L439.64,202.52 L439.74,201.92 L439.84,201.31 L439.95,200.70 L440.06,200.07 L440.18,199.44 L440.30,198.79 L440.43,198.13 L440.56,197.46 L440.70,196.76 L440.84,196.06 L440.99,195.33 L441.15,194.58 L441.33,193.84 L441.52,193.12 L441.74,192.44 L442.00,191.82 L442.30,191.29 L442.65,190.87 L443.03,190.58 L443.43,190.44 L443.85,190.48 L444.28,190.69 L444.70,191.04 L445.12,191.47 L445.52,191.94 L445.90,192.44 L446.27,192.95 L446.61,193.47 L446.94,194.01 L447.25,194.56 L447.55,195.12 L447.83,195.69 L448.11,196.27 L448.37,196.86 L448.62,197.46 L448.86,198.07 L449.09,198.68 L449.32,199.29 L449.54,199.91 L449.76,200.54 L449.97,201.16 L450.18,201.79 L450.39,202.41 L450.59,203.04 L450.80,203.66 L451.01,204.29 L451.21,204.91 L451.42,205.53 L451.62,206.15 L451.82,206.77 L452.03,207.39 L452.23,208.01 L452.43,208.63 L452.63,209.25 L452.83,209.86 L453.03,210.48 L453.23,211.10 L453.43,211.71 L453.63,212.33 L453.83,212.94 L454.03,213.55 L454.22,214.17 L454.42,214.78 L454.61,215.39 L454.81,216.00 L455.00,216.61 L455.20,217.22 L455.39,217.84 L455.58,218.45 L455.78,219.06 L455.97,219.66 L456.16,220.27 L456.35,220.88 L456.54,221.49 L456.73,222.10 L456.92,222.71 L457.11,223.32 L457.30,223.92 L457.49,224.53 L457.67,225.14 L457.86,225.75 L458.05,226.36 L458.23,226.96 L458.42,227.57 L458.60,228.18 L458.79,228.79 L458.97,229.39 L459.16,230.00 L459.34,230.61 L459.52,231.22 L459.70,231.82 L459.89,232.43 L460.07,233.04 L460.25,233.65 L460.43,234.26 L460.61,234.86 L460.79,235.47 L460.97,236.08 L461.15,236.69 L461.33,237.30 L461.50,237.91 L461.68,238.52 L461.86,239.13 L462.04,239.74 L462.21,240.35 L462.39,240.97 L462.57,241.58 L462.74,242.19 L462.92,242.80 L463.09,243.42 L463.27,244.03 L463.44,244.65 L463.61,245.26 L463.79,245.88 L463.96,246.50 L464.13,247.11 L464.30,247.73 L464.48,248.35 L464.65,248.97 L464.82,249.59 L464.99,250.21 L465.16,250.83 L465.33,251.45 L465.50,252.07 L465.67,252.70 L465.84,253.32 L466.01,253.95 L466.18,254.57 L466.35,255.20 L466.52,255.83 L466.69,256.46 L466.86,257.08 L467.03,257.71 L467.20,258.34 L467.37,258.97 L467.55,259.60 L467.72,260.23 L467.90,260.86 L468.07,261.48 L468.25,262.11 L468.43,262.74 L468.61,263.37 L468.79,263.99 L468.98,264.62 L469.17,265.24 L469.36,265.87 L469.55,266.49 L469.74,267.11 L469.94,267.73 L470.14,268.35 L470.34,268.97 L470.54,269.59 L470.75,270.21 L470.96,270.82 L471.18,271.43 L471.39,272.04 L471.62,272.65 L471.84,273.26 L472.07,273.87 L472.30,274.47 L472.54,275.07 L472.78,275.67 L473.03,276.27 L473.28,276.86 L473.53,277.45 L473.79,278.04 L474.06,278.63 L474.32,279.21 L474.60,279.80 L474.88,280.37 L475.16,280.95 L475.45,281.52 L475.75,282.09 L476.05,282.66 L476.36,283.22 L476.67,283.78 L476.99,284.34 L477.32,284.89 L477.65,285.44 L477.99,285.98 L478.33,286.52 L478.68,287.06 L479.04,287.59 L479.41,288.12 L479.78,288.65 L480.16,289.17 L480.55,289.68 L480.94,290.19 L481.34,290.70 L481.75,291.20 L482.17,291.69 L482.59,292.18 L483.03,292.66 L483.47,293.13 L483.91,293.59 L484.37,294.04 L484.83,294.48 L485.30,294.91 L485.78,295.33 L486.26,295.73 L486.76,296.13 L487.26,296.51 L487.77,296.87 L488.28,297.22 L488.81,297.56 L489.34,297.87 L489.88,298.18 L490.42,298.46 L490.98,298.73 L491.54,298.98 L492.11,299.20 L492.69,299.41 L493.28,299.60 L493.87,299.77 L494.48,299.92 L495.08,300.06 L495.70,300.18 L496.32,300.28 L496.94,300.36 L497.57,300.43 L498.21,300.49 L498.85,300.53 L499.50,300.55 L500.15,300.57 L500.80,300.57 L501.46,300.56 L502.12,300.54 L502.78,300.51 L503.44,300.46 L504.11,300.41 L504.78,300.35 L505.45,300.29 L506.12,300.21 L506.79,300.13 L507.47,300.04 L508.14,299.94 L508.81,299.84 L509.49,299.74 L510.16,299.63 L510.83,299.52 L511.50,299.40 L512.16,299.28 L512.83,299.17 L513.49,299.05 L514.15,298.93 L514.81,298.81 L515.46,298.69 L516.11,298.57 L516.76,298.45 L517.40,298.34 L518.04,298.23 L518.67,298.13 L519.30,298.04 L519.93,297.95 L520.55,297.88 L521.18,297.81 L521.79,297.76 L522.41,297.73 L523.02,297.70 L523.62,297.70 L524.23,297.71 L524.83,297.74 L525.43,297.79 L526.02,297.86 L526.61,297.96 L527.20,298.08 L527.79,298.22 L528.37,298.39 L528.96,298.59 L529.53,298.82 L530.11,299.08 L530.68,299.37 L531.25,299.69 L531.82,300.05 L532.39,300.45 L532.95,300.88 L533.52,301.35" fill="none" stroke="#000000" stroke-width="2.00" stroke-linejoin="round" stroke-linecap="round"/>
<path d="M260.60,297.00 L261.00,298.50 L261.40,300.00" fill="none" stroke="#000000" stroke-width="1.80" stroke-linejoin="round" stroke-linecap="round"/>
<line x1="7.80" y1="7.00" x2="7.80" y2="339.20" stroke="#6397bb" stroke-width="2.00"/>
<line x1="7.00" y1="7.90" x2="543.90" y2="7.90" stroke="#5b96b4" stroke-width="1.60"/>
<line x1="275.50" y1="7.90" x2="275.50" y2="173.90" stroke="#3f80a8" stroke-width="1.60"/>
<line x1="276.00" y1="173.00" x2="276.00" y2="338.30" stroke="#1b6a93" stroke-width="2.40"/>
<line x1="7.80" y1="173.90" x2="276.00" y2="173.90" stroke="#5a9ab5" stroke-width="2.20"/>
<line x1="275.50" y1="172.00" x2="543.00" y2="172.00" stroke="#5a93b5" stroke-width="1.60"/>
<line x1="276.00" y1="173.90" x2="544.00" y2="173.90" stroke="#5a93b5" stroke-width="1.60"/>
<line x1="543.00" y1="7.00" x2="543.00" y2="172.80" stroke="#5d95b5" stroke-width="1.60"/>
<line x1="544.00" y1="173.10" x2="544.00" y2="339.20" stroke="#6a9fc0" stroke-width="1.60"/>
<line x1="7.00" y1="338.30" x2="545.00" y2="338.30" stroke="#3d7f9b" stroke-width="1.80"/>
</svg></body></html>
